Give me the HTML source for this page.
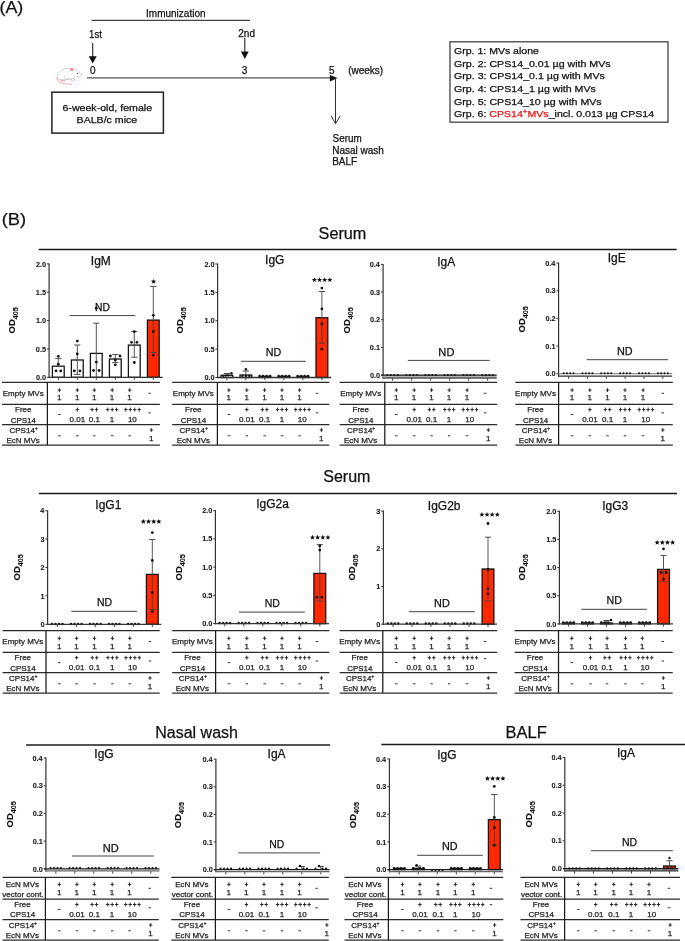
<!DOCTYPE html>
<html><head><meta charset="utf-8"><style>
html,body{margin:0;padding:0;background:#fff;}
body{width:685px;height:941px;overflow:hidden;}
svg{display:block;font-family:"Liberation Sans", sans-serif;will-change:transform;}
</style></head><body>
<svg width="685" height="941" viewBox="0 0 685 941">
<rect width="685" height="941" fill="#fff"/>
<text x="-0.52" y="13.30" font-size="17" fill="#111" stroke="#111" stroke-width="0.25" textLength="23.80" lengthAdjust="spacingAndGlyphs" >(A)</text>
<text x="146.07" y="17.00" font-size="10" fill="#111" stroke="#111" stroke-width="0.25" >Immunization</text>
<line x1="91.50" y1="20.40" x2="250.00" y2="20.40" stroke="#444" stroke-width="1.1" />
<text x="89.08" y="38.10" font-size="10" fill="#111" stroke="#111" stroke-width="0.25" textLength="12.81" lengthAdjust="spacingAndGlyphs" >1st</text>
<text x="238.30" y="37.00" font-size="10" fill="#111" stroke="#111" stroke-width="0.25" >2nd</text>
<line x1="92.70" y1="42.90" x2="92.70" y2="57.00" stroke="#222" stroke-width="1.1" />
<polygon points="88.8,56.2 96.7,56.2 92.7,63.6" fill="#111"/>
<line x1="244.80" y1="38.10" x2="244.80" y2="52.00" stroke="#222" stroke-width="1.1" />
<polygon points="240.9,51.5 248.7,51.5 244.8,58.9" fill="#111"/>
<text x="89.96" y="74.00" font-size="10" fill="#111" stroke="#111" stroke-width="0.25" >0</text>
<text x="241.85" y="74.00" font-size="10" fill="#111" stroke="#111" stroke-width="0.25" >3</text>
<text x="329.03" y="73.80" font-size="10" fill="#111" stroke="#111" stroke-width="0.25" >5</text>
<text x="348.17" y="73.90" font-size="10" fill="#111" stroke="#111" stroke-width="0.25" >(weeks)</text>
<line x1="87.00" y1="77.90" x2="331.00" y2="77.90" stroke="#555" stroke-width="1.3" />
<polygon points="329.9,74.9 337.6,78.1 329.9,81.5" fill="#111"/>
<line x1="335.50" y1="78.00" x2="335.50" y2="123.50" stroke="#333" stroke-width="1.0" />
<polyline points="331.1,115.8 335.5,123.7 340.3,115.8" fill="none" stroke="#333" stroke-width="1"/>
<text x="332.56" y="142.00" font-size="10" fill="#111" stroke="#111" stroke-width="0.25" textLength="29.09" lengthAdjust="spacingAndGlyphs" >Serum</text>
<text x="332.18" y="153.90" font-size="10" fill="#111" stroke="#111" stroke-width="0.25" >Nasal wash</text>
<text x="332.18" y="165.00" font-size="10" fill="#111" stroke="#111" stroke-width="0.25" >BALF</text>
<rect x="51.90" y="92.20" width="111.50" height="40.90" fill="none" stroke="#222" stroke-width="1.5"/>
<text x="62.47" y="110.80" font-size="9.4" fill="#111" stroke="#111" stroke-width="0.25" textLength="89.59" lengthAdjust="spacingAndGlyphs" >6-week-old, female</text>
<text x="76.58" y="122.60" font-size="9.4" fill="#111" stroke="#111" stroke-width="0.25" textLength="60.64" lengthAdjust="spacingAndGlyphs" >BALB/c mice</text>
<rect x="450.00" y="41.80" width="218.00" height="80.40" fill="none" stroke="#333" stroke-width="1.2"/>
<text x="454.07" y="54.10" font-size="9.3" fill="#111" stroke="#111" stroke-width="0.25" textLength="84.79" lengthAdjust="spacingAndGlyphs" >Grp. 1: MVs alone</text>
<text x="454.07" y="66.72" font-size="9.3" fill="#111" stroke="#111" stroke-width="0.25" textLength="156.50" lengthAdjust="spacingAndGlyphs" >Grp. 2: CPS14_0.01 µg with MVs</text>
<text x="454.07" y="79.34" font-size="9.3" fill="#111" stroke="#111" stroke-width="0.25" textLength="150.79" lengthAdjust="spacingAndGlyphs" >Grp. 3: CPS14_0.1 µg with MVs</text>
<text x="454.07" y="91.96" font-size="9.3" fill="#111" stroke="#111" stroke-width="0.25" textLength="141.70" lengthAdjust="spacingAndGlyphs" >Grp. 4: CPS14_1 µg with MVs</text>
<text x="454.07" y="104.58" font-size="9.3" fill="#111" stroke="#111" stroke-width="0.25" textLength="147.61" lengthAdjust="spacingAndGlyphs" >Grp. 5: CPS14_10 µg with MVs</text>
<text x="454.08" y="117.20" font-size="9.3" fill="#111" stroke="#111" stroke-width="0.25" textLength="200.03" lengthAdjust="spacingAndGlyphs">Grp. 6: <tspan fill="#f01010" stroke="#f01010">CPS14<tspan font-size="7" dy="-3.6">+</tspan><tspan dy="3.6">MVs</tspan></tspan>_incl. 0.013 µg CPS14</text>
<g fill="none" stroke-linecap="round" stroke-linejoin="round">
<path d="M57.6,79 C57,74 60,69.5 66,68.6 C69,68.1 71,68.6 72.5,69.2 C74.5,68.5 77,70 78.5,71.6 C80.5,73 81.8,74.5 81.6,75.5 C80,76.6 78,76.7 75.5,77 C74,78.2 72.5,78.8 70,79 C66,79.8 62,80 57.6,79 Z" stroke="#b9c0c6" stroke-width="0.7"/>
<path d="M57,77.5 C56.5,81 60,83.5 66,84 L71.5,84.2" stroke="#f2a0a8" stroke-width="0.9"/>
<path d="M61,80.5 L65,80.8" stroke="#f2a0a8" stroke-width="1.2"/>
<path d="M71.5,79.5 L72.3,81 M74.2,79.4 L75.2,80.2" stroke="#f2a0a8" stroke-width="1"/>
<path d="M64,75.5 L65.5,78.5 L68,78.8 L70,80.3" stroke="#b9c0c6" stroke-width="0.6"/>
</g>
<ellipse cx="71.8" cy="69.5" rx="1.7" ry="1.6" fill="#f08a95"/>
<circle cx="77.6" cy="73.4" r="0.55" fill="#333"/>
<text x="1.75" y="225.10" font-size="17" fill="#111" stroke="#111" stroke-width="0.25" textLength="24.46" lengthAdjust="spacingAndGlyphs" >(B)</text>
<text x="318.57" y="239.40" font-size="16" fill="#111" stroke="#111" stroke-width="0.25" textLength="47.79" lengthAdjust="spacingAndGlyphs" >Serum</text>
<line x1="38.70" y1="249.60" x2="676.70" y2="249.60" stroke="#1a1a1a" stroke-width="1.5" />
<text x="323.28" y="481.70" font-size="16" fill="#111" stroke="#111" stroke-width="0.25" >Serum</text>
<line x1="38.90" y1="493.60" x2="677.00" y2="493.60" stroke="#1a1a1a" stroke-width="1.5" />
<text x="155.28" y="737.60" font-size="16" fill="#111" stroke="#111" stroke-width="0.25" >Nasal wash</text>
<line x1="26.10" y1="744.90" x2="330.10" y2="744.90" stroke="#1a1a1a" stroke-width="1.5" />
<text x="505.64" y="737.80" font-size="16" fill="#111" stroke="#111" stroke-width="0.25" textLength="41.24" lengthAdjust="spacingAndGlyphs" >BALF</text>
<line x1="381.30" y1="744.50" x2="685.50" y2="744.50" stroke="#1a1a1a" stroke-width="1.5" />
<line x1="49.10" y1="263.40" x2="49.10" y2="377.90" stroke="#333" stroke-width="1.2" />
<line x1="46.90" y1="377.30" x2="49.10" y2="377.30" stroke="#333" stroke-width="1.0" />
<text x="35.95" y="379.90" font-size="7.3" font-weight="bold" fill="#1a1a1a" stroke="#1a1a1a" stroke-width="0.1" >0.0</text>
<line x1="46.90" y1="348.95" x2="49.10" y2="348.95" stroke="#333" stroke-width="1.0" />
<text x="35.85" y="351.55" font-size="7.3" font-weight="bold" fill="#1a1a1a" stroke="#1a1a1a" stroke-width="0.1" >0.5</text>
<line x1="46.90" y1="320.60" x2="49.10" y2="320.60" stroke="#333" stroke-width="1.0" />
<text x="35.95" y="323.20" font-size="7.3" font-weight="bold" fill="#1a1a1a" stroke="#1a1a1a" stroke-width="0.1" >1.0</text>
<line x1="46.90" y1="292.25" x2="49.10" y2="292.25" stroke="#333" stroke-width="1.0" />
<text x="35.85" y="294.85" font-size="7.3" font-weight="bold" fill="#1a1a1a" stroke="#1a1a1a" stroke-width="0.1" >1.5</text>
<line x1="46.90" y1="263.90" x2="49.10" y2="263.90" stroke="#333" stroke-width="1.0" />
<text x="35.95" y="266.50" font-size="7.3" font-weight="bold" fill="#1a1a1a" stroke="#1a1a1a" stroke-width="0.1" >2.0</text>
<rect x="52.40" y="366.20" width="11.80" height="11.10" fill="#fff" stroke="#151515" stroke-width="1.3"/>
<line x1="58.30" y1="358.60" x2="58.30" y2="366.20" stroke="#444" stroke-width="0.9" />
<line x1="55.20" y1="358.60" x2="61.40" y2="358.60" stroke="#444" stroke-width="0.95" />
<circle cx="58.30" cy="356.30" r="1.4" fill="#111"/>
<circle cx="58.30" cy="364.20" r="1.4" fill="#111"/>
<circle cx="56.00" cy="370.90" r="1.4" fill="#111"/>
<circle cx="60.80" cy="370.90" r="1.4" fill="#111"/>
<line x1="58.30" y1="377.30" x2="58.30" y2="380.10" stroke="#333" stroke-width="0.9" />
<rect x="71.40" y="360.00" width="11.80" height="17.30" fill="#fff" stroke="#151515" stroke-width="1.3"/>
<line x1="77.30" y1="345.00" x2="77.30" y2="374.40" stroke="#444" stroke-width="0.9" />
<line x1="74.20" y1="345.00" x2="80.40" y2="345.00" stroke="#444" stroke-width="0.95" />
<line x1="74.20" y1="374.40" x2="80.40" y2="374.40" stroke="#444" stroke-width="0.95" />
<circle cx="77.30" cy="341.10" r="1.4" fill="#111"/>
<circle cx="77.30" cy="353.90" r="1.4" fill="#111"/>
<circle cx="74.30" cy="370.90" r="1.4" fill="#111"/>
<circle cx="79.90" cy="370.90" r="1.4" fill="#111"/>
<line x1="77.30" y1="377.30" x2="77.30" y2="380.10" stroke="#333" stroke-width="0.9" />
<rect x="90.40" y="353.40" width="11.80" height="23.90" fill="#fff" stroke="#151515" stroke-width="1.3"/>
<line x1="96.30" y1="323.20" x2="96.30" y2="377.30" stroke="#444" stroke-width="0.9" />
<line x1="93.20" y1="323.20" x2="99.40" y2="323.20" stroke="#444" stroke-width="0.95" />
<circle cx="96.30" cy="308.20" r="1.4" fill="#111"/>
<circle cx="96.30" cy="362.10" r="1.4" fill="#111"/>
<circle cx="93.50" cy="370.50" r="1.4" fill="#111"/>
<circle cx="99.10" cy="370.50" r="1.4" fill="#111"/>
<line x1="96.30" y1="377.30" x2="96.30" y2="380.10" stroke="#333" stroke-width="0.9" />
<rect x="109.40" y="359.00" width="11.80" height="18.30" fill="#fff" stroke="#151515" stroke-width="1.3"/>
<line x1="115.30" y1="354.60" x2="115.30" y2="362.60" stroke="#444" stroke-width="0.9" />
<line x1="112.20" y1="354.60" x2="118.40" y2="354.60" stroke="#444" stroke-width="0.95" />
<line x1="112.20" y1="362.60" x2="118.40" y2="362.60" stroke="#444" stroke-width="0.95" />
<circle cx="110.40" cy="356.00" r="1.4" fill="#111"/>
<circle cx="120.00" cy="356.00" r="1.4" fill="#111"/>
<circle cx="115.30" cy="360.00" r="1.4" fill="#111"/>
<circle cx="115.30" cy="364.80" r="1.4" fill="#111"/>
<line x1="115.30" y1="377.30" x2="115.30" y2="380.10" stroke="#333" stroke-width="0.9" />
<rect x="128.40" y="345.10" width="11.80" height="32.20" fill="#fff" stroke="#151515" stroke-width="1.3"/>
<line x1="134.30" y1="331.60" x2="134.30" y2="357.20" stroke="#444" stroke-width="0.9" />
<line x1="131.20" y1="331.60" x2="137.40" y2="331.60" stroke="#444" stroke-width="0.95" />
<line x1="131.20" y1="357.20" x2="137.40" y2="357.20" stroke="#444" stroke-width="0.95" />
<circle cx="134.30" cy="331.60" r="1.4" fill="#111"/>
<circle cx="131.50" cy="342.30" r="1.4" fill="#111"/>
<circle cx="136.90" cy="342.30" r="1.4" fill="#111"/>
<circle cx="134.30" cy="362.50" r="1.4" fill="#111"/>
<line x1="134.30" y1="377.30" x2="134.30" y2="380.10" stroke="#333" stroke-width="0.9" />
<rect x="147.40" y="320.10" width="11.80" height="57.20" fill="#ff2800" stroke="#151515" stroke-width="1.3"/>
<line x1="153.30" y1="286.40" x2="153.30" y2="352.50" stroke="#444" stroke-width="0.9" />
<line x1="150.20" y1="286.40" x2="156.40" y2="286.40" stroke="#444" stroke-width="0.95" />
<line x1="150.20" y1="352.50" x2="156.40" y2="352.50" stroke="#444" stroke-width="0.95" />
<circle cx="153.30" cy="315.30" r="1.4" fill="#111"/>
<circle cx="153.30" cy="331.50" r="1.4" fill="#111"/>
<circle cx="153.30" cy="355.10" r="1.4" fill="#111"/>
<line x1="153.30" y1="377.30" x2="153.30" y2="380.10" stroke="#333" stroke-width="0.9" />
<line x1="48.50" y1="377.30" x2="162.70" y2="377.30" stroke="#333" stroke-width="1.3" />
<text x="90.84" y="264.60" font-size="12" fill="#111" stroke="#111" stroke-width="0.25" >IgM</text>
<polygon points="153.50,278.90 154.20,280.59 156.02,280.73 154.63,281.92 155.06,283.69 153.50,282.74 151.94,283.69 152.37,281.92 150.98,280.73 152.80,280.59" fill="#111"/>
<text x="95.05" y="310.70" font-size="10.5" fill="#111" stroke="#111" stroke-width="0.25" textLength="14.94" lengthAdjust="spacingAndGlyphs" >ND</text>
<line x1="69.60" y1="315.60" x2="135.30" y2="315.60" stroke="#444" stroke-width="1.0" />
<text transform="translate(15.00,333.40) rotate(-90) scale(0.955,1)" font-size="9.9" font-weight="bold" fill="#111" stroke="#111" stroke-width="0.12">OD<tspan font-size="7.6" dy="3.0">405</tspan></text>
<line x1="2.00" y1="382.40" x2="159.90" y2="382.40" stroke="#2a2a2a" stroke-width="1.25" />
<line x1="2.00" y1="404.30" x2="159.90" y2="404.30" stroke="#2a2a2a" stroke-width="1.25" />
<line x1="2.00" y1="424.70" x2="159.90" y2="424.70" stroke="#2a2a2a" stroke-width="1.25" />
<line x1="2.00" y1="445.00" x2="159.90" y2="445.00" stroke="#2a2a2a" stroke-width="1.25" />
<line x1="47.40" y1="382.40" x2="47.40" y2="445.00" stroke="#1a1a1a" stroke-width="1.25" />
<text x="2.76" y="396.00" font-size="8" fill="#222" stroke="#222" stroke-width="0.25" >Empty MVs</text>
<path d="M57.70,390.10H61.10M59.40,388.15V392.05" stroke="#222" stroke-width="0.95" fill="none"/>
<text x="57.07" y="400.40" font-size="8" fill="#222" stroke="#222" stroke-width="0.25" >1</text>
<path d="M75.60,390.10H79.00M77.30,388.15V392.05" stroke="#222" stroke-width="0.95" fill="none"/>
<text x="74.97" y="400.40" font-size="8" fill="#222" stroke="#222" stroke-width="0.25" >1</text>
<path d="M92.60,390.10H96.00M94.30,388.15V392.05" stroke="#222" stroke-width="0.95" fill="none"/>
<text x="91.97" y="400.40" font-size="8" fill="#222" stroke="#222" stroke-width="0.25" >1</text>
<path d="M110.50,390.10H113.90M112.20,388.15V392.05" stroke="#222" stroke-width="0.95" fill="none"/>
<text x="109.87" y="400.40" font-size="8" fill="#222" stroke="#222" stroke-width="0.25" >1</text>
<path d="M128.00,390.10H131.40M129.70,388.15V392.05" stroke="#222" stroke-width="0.95" fill="none"/>
<text x="127.37" y="400.40" font-size="8" fill="#222" stroke="#222" stroke-width="0.25" >1</text>
<line x1="148.35" y1="393.30" x2="150.85" y2="393.30" stroke="#333" stroke-width="1.0" />
<text x="15.02" y="412.30" font-size="8" fill="#222" stroke="#222" stroke-width="0.25" >Free</text>
<text x="10.64" y="422.50" font-size="8" fill="#222" stroke="#222" stroke-width="0.25" >CPS14</text>
<line x1="58.15" y1="414.50" x2="60.65" y2="414.50" stroke="#333" stroke-width="1.0" />
<path d="M75.60,409.60H79.00M77.30,407.65V411.55" stroke="#222" stroke-width="0.95" fill="none"/>
<text x="69.55" y="421.60" font-size="8" fill="#222" stroke="#222" stroke-width="0.25" >0.01</text>
<path d="M90.38,409.60H93.78M92.08,407.65V411.55" stroke="#222" stroke-width="0.95" fill="none"/>
<path d="M94.82,409.60H98.22M96.52,407.65V411.55" stroke="#222" stroke-width="0.95" fill="none"/>
<text x="88.77" y="421.60" font-size="8" fill="#222" stroke="#222" stroke-width="0.25" >0.1</text>
<path d="M106.05,409.60H109.45M107.75,407.65V411.55" stroke="#222" stroke-width="0.95" fill="none"/>
<path d="M110.50,409.60H113.90M112.20,407.65V411.55" stroke="#222" stroke-width="0.95" fill="none"/>
<path d="M114.95,409.60H118.35M116.65,407.65V411.55" stroke="#222" stroke-width="0.95" fill="none"/>
<text x="109.87" y="421.60" font-size="8" fill="#222" stroke="#222" stroke-width="0.25" >1</text>
<path d="M124.12,409.60H127.53M125.83,407.65V411.55" stroke="#222" stroke-width="0.95" fill="none"/>
<path d="M128.58,409.60H131.97M130.28,407.65V411.55" stroke="#222" stroke-width="0.95" fill="none"/>
<path d="M133.03,409.60H136.42M134.72,407.65V411.55" stroke="#222" stroke-width="0.95" fill="none"/>
<path d="M137.48,409.60H140.88M139.18,407.65V411.55" stroke="#222" stroke-width="0.95" fill="none"/>
<text x="127.91" y="421.60" font-size="8" fill="#222" stroke="#222" stroke-width="0.25" >10</text>
<line x1="148.35" y1="412.90" x2="150.85" y2="412.90" stroke="#333" stroke-width="1.0" />
<text x="9.49" y="432.70" font-size="8" fill="#222" stroke="#222" stroke-width="0.25">CPS14<tspan font-size="5.2" dy="-2.8">+</tspan></text>
<text x="6.54" y="442.90" font-size="8" fill="#222" stroke="#222" stroke-width="0.25" >EcN MVs</text>
<line x1="58.15" y1="435.80" x2="60.65" y2="435.80" stroke="#333" stroke-width="1.0" />
<line x1="76.05" y1="435.80" x2="78.55" y2="435.80" stroke="#333" stroke-width="1.0" />
<line x1="93.05" y1="435.80" x2="95.55" y2="435.80" stroke="#333" stroke-width="1.0" />
<line x1="110.95" y1="435.80" x2="113.45" y2="435.80" stroke="#333" stroke-width="1.0" />
<line x1="128.45" y1="435.80" x2="130.95" y2="435.80" stroke="#333" stroke-width="1.0" />
<path d="M149.60,430.00H153.00M151.30,428.05V431.95" stroke="#222" stroke-width="0.95" fill="none"/>
<text x="148.97" y="440.90" font-size="8" fill="#222" stroke="#222" stroke-width="0.25" >1</text>
<line x1="217.60" y1="263.50" x2="217.60" y2="378.10" stroke="#333" stroke-width="1.2" />
<line x1="215.40" y1="377.50" x2="217.60" y2="377.50" stroke="#333" stroke-width="1.0" />
<text x="204.44" y="380.10" font-size="7.3" font-weight="bold" fill="#1a1a1a" stroke="#1a1a1a" stroke-width="0.1" >0.0</text>
<line x1="215.40" y1="349.12" x2="217.60" y2="349.12" stroke="#333" stroke-width="1.0" />
<text x="204.35" y="351.73" font-size="7.3" font-weight="bold" fill="#1a1a1a" stroke="#1a1a1a" stroke-width="0.1" >0.5</text>
<line x1="215.40" y1="320.75" x2="217.60" y2="320.75" stroke="#333" stroke-width="1.0" />
<text x="204.44" y="323.35" font-size="7.3" font-weight="bold" fill="#1a1a1a" stroke="#1a1a1a" stroke-width="0.1" >1.0</text>
<line x1="215.40" y1="292.38" x2="217.60" y2="292.38" stroke="#333" stroke-width="1.0" />
<text x="204.35" y="294.98" font-size="7.3" font-weight="bold" fill="#1a1a1a" stroke="#1a1a1a" stroke-width="0.1" >1.5</text>
<line x1="215.40" y1="264.00" x2="217.60" y2="264.00" stroke="#333" stroke-width="1.0" />
<text x="204.44" y="266.60" font-size="7.3" font-weight="bold" fill="#1a1a1a" stroke="#1a1a1a" stroke-width="0.1" >2.0</text>
<rect x="221.00" y="375.30" width="11.80" height="2.20" fill="#fff" stroke="#151515" stroke-width="1.3"/>
<line x1="226.90" y1="373.50" x2="226.90" y2="375.30" stroke="#444" stroke-width="0.9" />
<line x1="223.80" y1="373.50" x2="230.00" y2="373.50" stroke="#444" stroke-width="0.95" />
<circle cx="223.40" cy="376.00" r="1.15" fill="#111"/>
<circle cx="225.90" cy="375.60" r="1.15" fill="#111"/>
<circle cx="228.40" cy="375.30" r="1.15" fill="#111"/>
<circle cx="231.50" cy="373.30" r="1.2" fill="#111"/>
<line x1="226.90" y1="377.50" x2="226.90" y2="380.30" stroke="#333" stroke-width="0.9" />
<rect x="240.00" y="375.00" width="11.80" height="2.50" fill="#fff" stroke="#151515" stroke-width="1.3"/>
<line x1="245.90" y1="371.00" x2="245.90" y2="375.00" stroke="#444" stroke-width="0.9" />
<line x1="242.80" y1="371.00" x2="249.00" y2="371.00" stroke="#444" stroke-width="0.95" />
<circle cx="245.90" cy="369.20" r="1.25" fill="#111"/>
<circle cx="242.40" cy="376.00" r="1.15" fill="#111"/>
<circle cx="245.90" cy="376.00" r="1.15" fill="#111"/>
<circle cx="249.40" cy="376.00" r="1.15" fill="#111"/>
<line x1="245.90" y1="377.50" x2="245.90" y2="380.30" stroke="#333" stroke-width="0.9" />
<rect x="259.00" y="376.30" width="11.80" height="1.20" fill="#fff" stroke="#151515" stroke-width="1.3"/>
<circle cx="259.65" cy="375.90" r="1.15" fill="#111"/>
<circle cx="263.15" cy="375.90" r="1.15" fill="#111"/>
<circle cx="266.65" cy="375.90" r="1.15" fill="#111"/>
<circle cx="270.15" cy="375.90" r="1.15" fill="#111"/>
<line x1="264.90" y1="377.50" x2="264.90" y2="380.30" stroke="#333" stroke-width="0.9" />
<rect x="278.00" y="376.30" width="11.80" height="1.20" fill="#fff" stroke="#151515" stroke-width="1.3"/>
<circle cx="278.65" cy="375.90" r="1.15" fill="#111"/>
<circle cx="282.15" cy="375.90" r="1.15" fill="#111"/>
<circle cx="285.65" cy="375.90" r="1.15" fill="#111"/>
<circle cx="289.15" cy="375.90" r="1.15" fill="#111"/>
<line x1="283.90" y1="377.50" x2="283.90" y2="380.30" stroke="#333" stroke-width="0.9" />
<rect x="297.00" y="376.30" width="11.80" height="1.20" fill="#fff" stroke="#151515" stroke-width="1.3"/>
<circle cx="297.65" cy="375.90" r="1.15" fill="#111"/>
<circle cx="301.15" cy="375.90" r="1.15" fill="#111"/>
<circle cx="304.65" cy="375.90" r="1.15" fill="#111"/>
<circle cx="308.15" cy="375.90" r="1.15" fill="#111"/>
<line x1="302.90" y1="377.50" x2="302.90" y2="380.30" stroke="#333" stroke-width="0.9" />
<rect x="316.00" y="317.70" width="11.80" height="59.80" fill="#ff2800" stroke="#151515" stroke-width="1.3"/>
<line x1="321.90" y1="291.50" x2="321.90" y2="343.20" stroke="#444" stroke-width="0.9" />
<line x1="318.80" y1="291.50" x2="325.00" y2="291.50" stroke="#444" stroke-width="0.95" />
<line x1="318.80" y1="343.20" x2="325.00" y2="343.20" stroke="#444" stroke-width="0.95" />
<circle cx="321.90" cy="288.10" r="1.4" fill="#111"/>
<circle cx="321.90" cy="308.90" r="1.4" fill="#111"/>
<circle cx="321.90" cy="323.80" r="1.4" fill="#111"/>
<circle cx="321.90" cy="349.20" r="1.4" fill="#111"/>
<line x1="321.90" y1="377.50" x2="321.90" y2="380.30" stroke="#333" stroke-width="0.9" />
<line x1="217.00" y1="377.50" x2="331.20" y2="377.50" stroke="#333" stroke-width="1.3" />
<text x="265.12" y="264.00" font-size="12" fill="#111" stroke="#111" stroke-width="0.25" >IgG</text>
<polygon points="314.38,277.20 315.08,278.89 316.90,279.03 315.51,280.22 315.93,281.99 314.38,281.04 312.82,281.99 313.24,280.22 311.85,279.03 313.67,278.89" fill="#111"/>
<polygon points="319.52,277.20 320.23,278.89 322.05,279.03 320.66,280.22 321.08,281.99 319.52,281.04 317.97,281.99 318.39,280.22 317.00,279.03 318.82,278.89" fill="#111"/>
<polygon points="324.68,277.20 325.38,278.89 327.20,279.03 325.81,280.22 326.23,281.99 324.68,281.04 323.12,281.99 323.54,280.22 322.15,279.03 323.97,278.89" fill="#111"/>
<polygon points="329.82,277.20 330.53,278.89 332.35,279.03 330.96,280.22 331.38,281.99 329.82,281.04 328.27,281.99 328.69,280.22 327.30,279.03 329.12,278.89" fill="#111"/>
<text x="265.82" y="356.20" font-size="10.5" fill="#111" stroke="#111" stroke-width="0.25" textLength="15.49" lengthAdjust="spacingAndGlyphs" >ND</text>
<line x1="240.80" y1="361.30" x2="305.70" y2="361.30" stroke="#444" stroke-width="1.0" />
<text transform="translate(183.00,333.40) rotate(-90) scale(0.955,1)" font-size="9.9" font-weight="bold" fill="#111" stroke="#111" stroke-width="0.12">OD<tspan font-size="7.6" dy="3.0">405</tspan></text>
<line x1="172.20" y1="382.40" x2="329.30" y2="382.40" stroke="#2a2a2a" stroke-width="1.25" />
<line x1="172.20" y1="404.30" x2="329.30" y2="404.30" stroke="#2a2a2a" stroke-width="1.25" />
<line x1="172.20" y1="424.70" x2="329.30" y2="424.70" stroke="#2a2a2a" stroke-width="1.25" />
<line x1="172.20" y1="445.00" x2="329.30" y2="445.00" stroke="#2a2a2a" stroke-width="1.25" />
<line x1="217.40" y1="382.40" x2="217.40" y2="445.00" stroke="#1a1a1a" stroke-width="1.25" />
<text x="172.86" y="396.00" font-size="8" fill="#222" stroke="#222" stroke-width="0.25" >Empty MVs</text>
<path d="M227.20,390.10H230.60M228.90,388.15V392.05" stroke="#222" stroke-width="0.95" fill="none"/>
<text x="226.57" y="400.40" font-size="8" fill="#222" stroke="#222" stroke-width="0.25" >1</text>
<path d="M245.10,390.10H248.50M246.80,388.15V392.05" stroke="#222" stroke-width="0.95" fill="none"/>
<text x="244.47" y="400.40" font-size="8" fill="#222" stroke="#222" stroke-width="0.25" >1</text>
<path d="M262.90,390.10H266.30M264.60,388.15V392.05" stroke="#222" stroke-width="0.95" fill="none"/>
<text x="262.27" y="400.40" font-size="8" fill="#222" stroke="#222" stroke-width="0.25" >1</text>
<path d="M280.30,390.10H283.70M282.00,388.15V392.05" stroke="#222" stroke-width="0.95" fill="none"/>
<text x="279.67" y="400.40" font-size="8" fill="#222" stroke="#222" stroke-width="0.25" >1</text>
<path d="M297.90,390.10H301.30M299.60,388.15V392.05" stroke="#222" stroke-width="0.95" fill="none"/>
<text x="297.27" y="400.40" font-size="8" fill="#222" stroke="#222" stroke-width="0.25" >1</text>
<line x1="315.75" y1="393.30" x2="318.25" y2="393.30" stroke="#333" stroke-width="1.0" />
<text x="185.12" y="412.30" font-size="8" fill="#222" stroke="#222" stroke-width="0.25" >Free</text>
<text x="180.74" y="422.50" font-size="8" fill="#222" stroke="#222" stroke-width="0.25" >CPS14</text>
<line x1="227.65" y1="414.50" x2="230.15" y2="414.50" stroke="#333" stroke-width="1.0" />
<path d="M245.10,409.60H248.50M246.80,407.65V411.55" stroke="#222" stroke-width="0.95" fill="none"/>
<text x="239.05" y="421.60" font-size="8" fill="#222" stroke="#222" stroke-width="0.25" >0.01</text>
<path d="M260.68,409.60H264.07M262.38,407.65V411.55" stroke="#222" stroke-width="0.95" fill="none"/>
<path d="M265.13,409.60H268.53M266.83,407.65V411.55" stroke="#222" stroke-width="0.95" fill="none"/>
<text x="259.07" y="421.60" font-size="8" fill="#222" stroke="#222" stroke-width="0.25" >0.1</text>
<path d="M275.85,409.60H279.25M277.55,407.65V411.55" stroke="#222" stroke-width="0.95" fill="none"/>
<path d="M280.30,409.60H283.70M282.00,407.65V411.55" stroke="#222" stroke-width="0.95" fill="none"/>
<path d="M284.75,409.60H288.15M286.45,407.65V411.55" stroke="#222" stroke-width="0.95" fill="none"/>
<text x="279.67" y="421.60" font-size="8" fill="#222" stroke="#222" stroke-width="0.25" >1</text>
<path d="M294.03,409.60H297.43M295.73,407.65V411.55" stroke="#222" stroke-width="0.95" fill="none"/>
<path d="M298.48,409.60H301.88M300.18,407.65V411.55" stroke="#222" stroke-width="0.95" fill="none"/>
<path d="M302.93,409.60H306.33M304.63,407.65V411.55" stroke="#222" stroke-width="0.95" fill="none"/>
<path d="M307.38,409.60H310.78M309.08,407.65V411.55" stroke="#222" stroke-width="0.95" fill="none"/>
<text x="297.81" y="421.60" font-size="8" fill="#222" stroke="#222" stroke-width="0.25" >10</text>
<line x1="315.75" y1="412.90" x2="318.25" y2="412.90" stroke="#333" stroke-width="1.0" />
<text x="179.59" y="432.70" font-size="8" fill="#222" stroke="#222" stroke-width="0.25">CPS14<tspan font-size="5.2" dy="-2.8">+</tspan></text>
<text x="176.64" y="442.90" font-size="8" fill="#222" stroke="#222" stroke-width="0.25" >EcN MVs</text>
<line x1="227.65" y1="435.80" x2="230.15" y2="435.80" stroke="#333" stroke-width="1.0" />
<line x1="245.55" y1="435.80" x2="248.05" y2="435.80" stroke="#333" stroke-width="1.0" />
<line x1="263.35" y1="435.80" x2="265.85" y2="435.80" stroke="#333" stroke-width="1.0" />
<line x1="280.75" y1="435.80" x2="283.25" y2="435.80" stroke="#333" stroke-width="1.0" />
<line x1="298.35" y1="435.80" x2="300.85" y2="435.80" stroke="#333" stroke-width="1.0" />
<path d="M319.70,430.00H323.10M321.40,428.05V431.95" stroke="#222" stroke-width="0.95" fill="none"/>
<text x="319.07" y="440.90" font-size="8" fill="#222" stroke="#222" stroke-width="0.25" >1</text>
<line x1="383.10" y1="263.90" x2="383.10" y2="378.60" stroke="#333" stroke-width="1.2" />
<line x1="380.90" y1="375.10" x2="383.10" y2="375.10" stroke="#333" stroke-width="1.0" />
<text x="369.95" y="377.70" font-size="7.3" font-weight="bold" fill="#1a1a1a" stroke="#1a1a1a" stroke-width="0.1" >0.0</text>
<line x1="380.90" y1="347.43" x2="383.10" y2="347.43" stroke="#333" stroke-width="1.0" />
<text x="369.85" y="350.03" font-size="7.3" font-weight="bold" fill="#1a1a1a" stroke="#1a1a1a" stroke-width="0.1" >0.1</text>
<line x1="380.90" y1="319.75" x2="383.10" y2="319.75" stroke="#333" stroke-width="1.0" />
<text x="369.93" y="322.35" font-size="7.3" font-weight="bold" fill="#1a1a1a" stroke="#1a1a1a" stroke-width="0.1" >0.2</text>
<line x1="380.90" y1="292.07" x2="383.10" y2="292.07" stroke="#333" stroke-width="1.0" />
<text x="369.91" y="294.68" font-size="7.3" font-weight="bold" fill="#1a1a1a" stroke="#1a1a1a" stroke-width="0.1" >0.3</text>
<line x1="380.90" y1="264.40" x2="383.10" y2="264.40" stroke="#333" stroke-width="1.0" />
<text x="369.69" y="267.00" font-size="7.3" font-weight="bold" fill="#1a1a1a" stroke="#1a1a1a" stroke-width="0.1" >0.4</text>
<rect x="383.10" y="375.10" width="113.60" height="2.90" fill="#b4b4b4"/>
<line x1="381.30" y1="375.10" x2="496.70" y2="375.10" stroke="#1a1a1a" stroke-width="1.3" />
<circle cx="387.35" cy="374.90" r="1.0" fill="#111"/>
<circle cx="390.85" cy="374.90" r="1.0" fill="#111"/>
<circle cx="394.35" cy="374.90" r="1.0" fill="#111"/>
<circle cx="397.85" cy="374.90" r="1.0" fill="#111"/>
<line x1="392.60" y1="378.00" x2="392.60" y2="380.80" stroke="#333" stroke-width="0.9" />
<circle cx="406.35" cy="374.90" r="1.0" fill="#111"/>
<circle cx="409.85" cy="374.90" r="1.0" fill="#111"/>
<circle cx="413.35" cy="374.90" r="1.0" fill="#111"/>
<circle cx="416.85" cy="374.90" r="1.0" fill="#111"/>
<line x1="411.60" y1="378.00" x2="411.60" y2="380.80" stroke="#333" stroke-width="0.9" />
<circle cx="425.35" cy="374.90" r="1.0" fill="#111"/>
<circle cx="428.85" cy="374.90" r="1.0" fill="#111"/>
<circle cx="432.35" cy="374.90" r="1.0" fill="#111"/>
<circle cx="435.85" cy="374.90" r="1.0" fill="#111"/>
<line x1="430.60" y1="378.00" x2="430.60" y2="380.80" stroke="#333" stroke-width="0.9" />
<circle cx="444.35" cy="374.90" r="1.0" fill="#111"/>
<circle cx="447.85" cy="374.90" r="1.0" fill="#111"/>
<circle cx="451.35" cy="374.90" r="1.0" fill="#111"/>
<circle cx="454.85" cy="374.90" r="1.0" fill="#111"/>
<line x1="449.60" y1="378.00" x2="449.60" y2="380.80" stroke="#333" stroke-width="0.9" />
<circle cx="463.35" cy="374.90" r="1.0" fill="#111"/>
<circle cx="466.85" cy="374.90" r="1.0" fill="#111"/>
<circle cx="470.35" cy="374.90" r="1.0" fill="#111"/>
<circle cx="473.85" cy="374.90" r="1.0" fill="#111"/>
<line x1="468.60" y1="378.00" x2="468.60" y2="380.80" stroke="#333" stroke-width="0.9" />
<circle cx="482.35" cy="374.90" r="1.0" fill="#111"/>
<circle cx="485.85" cy="374.90" r="1.0" fill="#111"/>
<circle cx="489.35" cy="374.90" r="1.0" fill="#111"/>
<circle cx="492.85" cy="374.90" r="1.0" fill="#111"/>
<line x1="487.60" y1="378.00" x2="487.60" y2="380.80" stroke="#333" stroke-width="0.9" />
<line x1="382.50" y1="378.00" x2="496.70" y2="378.00" stroke="#555" stroke-width="1.3" />
<text x="437.14" y="265.60" font-size="12" fill="#111" stroke="#111" stroke-width="0.25" >IgA</text>
<text x="438.38" y="355.60" font-size="10.5" fill="#111" stroke="#111" stroke-width="0.25" textLength="16.04" lengthAdjust="spacingAndGlyphs" >ND</text>
<line x1="407.80" y1="360.40" x2="489.80" y2="360.40" stroke="#444" stroke-width="1.0" />
<text transform="translate(349.50,333.40) rotate(-90) scale(0.955,1)" font-size="9.9" font-weight="bold" fill="#111" stroke="#111" stroke-width="0.12">OD<tspan font-size="7.6" dy="3.0">405</tspan></text>
<line x1="339.60" y1="382.40" x2="497.20" y2="382.40" stroke="#2a2a2a" stroke-width="1.25" />
<line x1="339.60" y1="404.30" x2="497.20" y2="404.30" stroke="#2a2a2a" stroke-width="1.25" />
<line x1="339.60" y1="424.70" x2="497.20" y2="424.70" stroke="#2a2a2a" stroke-width="1.25" />
<line x1="339.60" y1="445.00" x2="497.20" y2="445.00" stroke="#2a2a2a" stroke-width="1.25" />
<line x1="384.80" y1="382.40" x2="384.80" y2="445.00" stroke="#1a1a1a" stroke-width="1.25" />
<text x="340.26" y="396.00" font-size="8" fill="#222" stroke="#222" stroke-width="0.25" >Empty MVs</text>
<path d="M394.60,390.10H398.00M396.30,388.15V392.05" stroke="#222" stroke-width="0.95" fill="none"/>
<text x="393.97" y="400.40" font-size="8" fill="#222" stroke="#222" stroke-width="0.25" >1</text>
<path d="M412.50,390.10H415.90M414.20,388.15V392.05" stroke="#222" stroke-width="0.95" fill="none"/>
<text x="411.87" y="400.40" font-size="8" fill="#222" stroke="#222" stroke-width="0.25" >1</text>
<path d="M429.90,390.10H433.30M431.60,388.15V392.05" stroke="#222" stroke-width="0.95" fill="none"/>
<text x="429.27" y="400.40" font-size="8" fill="#222" stroke="#222" stroke-width="0.25" >1</text>
<path d="M447.50,390.10H450.90M449.20,388.15V392.05" stroke="#222" stroke-width="0.95" fill="none"/>
<text x="446.87" y="400.40" font-size="8" fill="#222" stroke="#222" stroke-width="0.25" >1</text>
<path d="M465.40,390.10H468.80M467.10,388.15V392.05" stroke="#222" stroke-width="0.95" fill="none"/>
<text x="464.77" y="400.40" font-size="8" fill="#222" stroke="#222" stroke-width="0.25" >1</text>
<line x1="483.95" y1="393.30" x2="486.45" y2="393.30" stroke="#333" stroke-width="1.0" />
<text x="352.52" y="412.30" font-size="8" fill="#222" stroke="#222" stroke-width="0.25" >Free</text>
<text x="348.14" y="422.50" font-size="8" fill="#222" stroke="#222" stroke-width="0.25" >CPS14</text>
<line x1="395.05" y1="414.50" x2="397.55" y2="414.50" stroke="#333" stroke-width="1.0" />
<path d="M412.50,409.60H415.90M414.20,407.65V411.55" stroke="#222" stroke-width="0.95" fill="none"/>
<text x="406.45" y="421.60" font-size="8" fill="#222" stroke="#222" stroke-width="0.25" >0.01</text>
<path d="M427.68,409.60H431.07M429.38,407.65V411.55" stroke="#222" stroke-width="0.95" fill="none"/>
<path d="M432.13,409.60H435.53M433.83,407.65V411.55" stroke="#222" stroke-width="0.95" fill="none"/>
<text x="426.07" y="421.60" font-size="8" fill="#222" stroke="#222" stroke-width="0.25" >0.1</text>
<path d="M443.05,409.60H446.45M444.75,407.65V411.55" stroke="#222" stroke-width="0.95" fill="none"/>
<path d="M447.50,409.60H450.90M449.20,407.65V411.55" stroke="#222" stroke-width="0.95" fill="none"/>
<path d="M451.95,409.60H455.35M453.65,407.65V411.55" stroke="#222" stroke-width="0.95" fill="none"/>
<text x="446.87" y="421.60" font-size="8" fill="#222" stroke="#222" stroke-width="0.25" >1</text>
<path d="M461.53,409.60H464.93M463.23,407.65V411.55" stroke="#222" stroke-width="0.95" fill="none"/>
<path d="M465.98,409.60H469.38M467.68,407.65V411.55" stroke="#222" stroke-width="0.95" fill="none"/>
<path d="M470.43,409.60H473.83M472.13,407.65V411.55" stroke="#222" stroke-width="0.95" fill="none"/>
<path d="M474.88,409.60H478.28M476.58,407.65V411.55" stroke="#222" stroke-width="0.95" fill="none"/>
<text x="465.31" y="421.60" font-size="8" fill="#222" stroke="#222" stroke-width="0.25" >10</text>
<line x1="483.95" y1="412.90" x2="486.45" y2="412.90" stroke="#333" stroke-width="1.0" />
<text x="346.99" y="432.70" font-size="8" fill="#222" stroke="#222" stroke-width="0.25">CPS14<tspan font-size="5.2" dy="-2.8">+</tspan></text>
<text x="344.04" y="442.90" font-size="8" fill="#222" stroke="#222" stroke-width="0.25" >EcN MVs</text>
<line x1="395.05" y1="435.80" x2="397.55" y2="435.80" stroke="#333" stroke-width="1.0" />
<line x1="412.95" y1="435.80" x2="415.45" y2="435.80" stroke="#333" stroke-width="1.0" />
<line x1="430.35" y1="435.80" x2="432.85" y2="435.80" stroke="#333" stroke-width="1.0" />
<line x1="447.95" y1="435.80" x2="450.45" y2="435.80" stroke="#333" stroke-width="1.0" />
<line x1="465.85" y1="435.80" x2="468.35" y2="435.80" stroke="#333" stroke-width="1.0" />
<path d="M486.60,430.00H490.00M488.30,428.05V431.95" stroke="#222" stroke-width="0.95" fill="none"/>
<text x="485.97" y="440.90" font-size="8" fill="#222" stroke="#222" stroke-width="0.25" >1</text>
<line x1="558.60" y1="262.60" x2="558.60" y2="376.80" stroke="#333" stroke-width="1.2" />
<line x1="556.40" y1="373.70" x2="558.60" y2="373.70" stroke="#333" stroke-width="1.0" />
<text x="545.45" y="376.30" font-size="7.3" font-weight="bold" fill="#1a1a1a" stroke="#1a1a1a" stroke-width="0.1" >0.0</text>
<line x1="556.40" y1="346.05" x2="558.60" y2="346.05" stroke="#333" stroke-width="1.0" />
<text x="545.35" y="348.65" font-size="7.3" font-weight="bold" fill="#1a1a1a" stroke="#1a1a1a" stroke-width="0.1" >0.1</text>
<line x1="556.40" y1="318.40" x2="558.60" y2="318.40" stroke="#333" stroke-width="1.0" />
<text x="545.43" y="321.00" font-size="7.3" font-weight="bold" fill="#1a1a1a" stroke="#1a1a1a" stroke-width="0.1" >0.2</text>
<line x1="556.40" y1="290.75" x2="558.60" y2="290.75" stroke="#333" stroke-width="1.0" />
<text x="545.41" y="293.35" font-size="7.3" font-weight="bold" fill="#1a1a1a" stroke="#1a1a1a" stroke-width="0.1" >0.3</text>
<line x1="556.40" y1="263.10" x2="558.60" y2="263.10" stroke="#333" stroke-width="1.0" />
<text x="545.19" y="265.70" font-size="7.3" font-weight="bold" fill="#1a1a1a" stroke="#1a1a1a" stroke-width="0.1" >0.4</text>
<line x1="556.40" y1="373.70" x2="672.20" y2="373.70" stroke="#777" stroke-width="1.0" />
<circle cx="563.65" cy="373.30" r="1.05" fill="#111"/>
<circle cx="566.95" cy="373.30" r="1.05" fill="#111"/>
<circle cx="570.25" cy="373.30" r="1.05" fill="#111"/>
<circle cx="573.55" cy="373.30" r="1.05" fill="#111"/>
<line x1="568.60" y1="376.20" x2="568.60" y2="379.00" stroke="#333" stroke-width="0.9" />
<circle cx="582.50" cy="373.30" r="1.05" fill="#111"/>
<circle cx="585.80" cy="373.30" r="1.05" fill="#111"/>
<circle cx="589.10" cy="373.30" r="1.05" fill="#111"/>
<circle cx="592.40" cy="373.30" r="1.05" fill="#111"/>
<line x1="587.45" y1="376.20" x2="587.45" y2="379.00" stroke="#333" stroke-width="0.9" />
<circle cx="601.35" cy="373.30" r="1.05" fill="#111"/>
<circle cx="604.65" cy="373.30" r="1.05" fill="#111"/>
<circle cx="607.95" cy="373.30" r="1.05" fill="#111"/>
<circle cx="611.25" cy="373.30" r="1.05" fill="#111"/>
<line x1="606.30" y1="376.20" x2="606.30" y2="379.00" stroke="#333" stroke-width="0.9" />
<circle cx="620.20" cy="373.30" r="1.05" fill="#111"/>
<circle cx="623.50" cy="373.30" r="1.05" fill="#111"/>
<circle cx="626.80" cy="373.30" r="1.05" fill="#111"/>
<circle cx="630.10" cy="373.30" r="1.05" fill="#111"/>
<line x1="625.15" y1="376.20" x2="625.15" y2="379.00" stroke="#333" stroke-width="0.9" />
<circle cx="639.05" cy="373.30" r="1.05" fill="#111"/>
<circle cx="642.35" cy="373.30" r="1.05" fill="#111"/>
<circle cx="645.65" cy="373.30" r="1.05" fill="#111"/>
<circle cx="648.95" cy="373.30" r="1.05" fill="#111"/>
<line x1="644.00" y1="376.20" x2="644.00" y2="379.00" stroke="#333" stroke-width="0.9" />
<circle cx="657.90" cy="373.30" r="1.05" fill="#111"/>
<circle cx="661.20" cy="373.30" r="1.05" fill="#111"/>
<circle cx="664.50" cy="373.30" r="1.05" fill="#111"/>
<circle cx="667.80" cy="373.30" r="1.05" fill="#111"/>
<line x1="662.85" y1="376.20" x2="662.85" y2="379.00" stroke="#333" stroke-width="0.9" />
<line x1="558.00" y1="376.20" x2="672.20" y2="376.20" stroke="#333" stroke-width="1.3" />
<text x="607.68" y="262.20" font-size="12" fill="#111" stroke="#111" stroke-width="0.25" >IgE</text>
<text x="617.01" y="354.80" font-size="10.5" fill="#111" stroke="#111" stroke-width="0.25" textLength="15.60" lengthAdjust="spacingAndGlyphs" >ND</text>
<line x1="586.60" y1="359.70" x2="668.00" y2="359.70" stroke="#444" stroke-width="1.0" />
<text transform="translate(524.70,332.40) rotate(-90) scale(0.955,1)" font-size="9.9" font-weight="bold" fill="#111" stroke="#111" stroke-width="0.12">OD<tspan font-size="7.6" dy="3.0">405</tspan></text>
<line x1="515.40" y1="382.40" x2="672.80" y2="382.40" stroke="#2a2a2a" stroke-width="1.25" />
<line x1="515.40" y1="404.30" x2="672.80" y2="404.30" stroke="#2a2a2a" stroke-width="1.25" />
<line x1="515.40" y1="424.70" x2="672.80" y2="424.70" stroke="#2a2a2a" stroke-width="1.25" />
<line x1="515.40" y1="445.00" x2="672.80" y2="445.00" stroke="#2a2a2a" stroke-width="1.25" />
<line x1="558.60" y1="382.40" x2="558.60" y2="445.00" stroke="#1a1a1a" stroke-width="1.25" />
<text x="515.06" y="396.00" font-size="8" fill="#222" stroke="#222" stroke-width="0.25" >Empty MVs</text>
<path d="M570.40,390.10H573.80M572.10,388.15V392.05" stroke="#222" stroke-width="0.95" fill="none"/>
<text x="569.77" y="400.40" font-size="8" fill="#222" stroke="#222" stroke-width="0.25" >1</text>
<path d="M588.20,390.10H591.60M589.90,388.15V392.05" stroke="#222" stroke-width="0.95" fill="none"/>
<text x="587.57" y="400.40" font-size="8" fill="#222" stroke="#222" stroke-width="0.25" >1</text>
<path d="M605.80,390.10H609.20M607.50,388.15V392.05" stroke="#222" stroke-width="0.95" fill="none"/>
<text x="605.17" y="400.40" font-size="8" fill="#222" stroke="#222" stroke-width="0.25" >1</text>
<path d="M623.30,390.10H626.70M625.00,388.15V392.05" stroke="#222" stroke-width="0.95" fill="none"/>
<text x="622.67" y="400.40" font-size="8" fill="#222" stroke="#222" stroke-width="0.25" >1</text>
<path d="M641.40,390.10H644.80M643.10,388.15V392.05" stroke="#222" stroke-width="0.95" fill="none"/>
<text x="640.77" y="400.40" font-size="8" fill="#222" stroke="#222" stroke-width="0.25" >1</text>
<line x1="661.55" y1="393.30" x2="664.05" y2="393.30" stroke="#333" stroke-width="1.0" />
<text x="527.32" y="412.30" font-size="8" fill="#222" stroke="#222" stroke-width="0.25" >Free</text>
<text x="522.94" y="422.50" font-size="8" fill="#222" stroke="#222" stroke-width="0.25" >CPS14</text>
<line x1="570.85" y1="414.50" x2="573.35" y2="414.50" stroke="#333" stroke-width="1.0" />
<path d="M588.20,409.60H591.60M589.90,407.65V411.55" stroke="#222" stroke-width="0.95" fill="none"/>
<text x="582.15" y="421.60" font-size="8" fill="#222" stroke="#222" stroke-width="0.25" >0.01</text>
<path d="M603.57,409.60H606.98M605.27,407.65V411.55" stroke="#222" stroke-width="0.95" fill="none"/>
<path d="M608.02,409.60H611.43M609.73,407.65V411.55" stroke="#222" stroke-width="0.95" fill="none"/>
<text x="601.97" y="421.60" font-size="8" fill="#222" stroke="#222" stroke-width="0.25" >0.1</text>
<path d="M618.85,409.60H622.25M620.55,407.65V411.55" stroke="#222" stroke-width="0.95" fill="none"/>
<path d="M623.30,409.60H626.70M625.00,407.65V411.55" stroke="#222" stroke-width="0.95" fill="none"/>
<path d="M627.75,409.60H631.15M629.45,407.65V411.55" stroke="#222" stroke-width="0.95" fill="none"/>
<text x="622.67" y="421.60" font-size="8" fill="#222" stroke="#222" stroke-width="0.25" >1</text>
<path d="M637.52,409.60H640.93M639.23,407.65V411.55" stroke="#222" stroke-width="0.95" fill="none"/>
<path d="M641.97,409.60H645.38M643.67,407.65V411.55" stroke="#222" stroke-width="0.95" fill="none"/>
<path d="M646.42,409.60H649.83M648.12,407.65V411.55" stroke="#222" stroke-width="0.95" fill="none"/>
<path d="M650.87,409.60H654.27M652.57,407.65V411.55" stroke="#222" stroke-width="0.95" fill="none"/>
<text x="641.31" y="421.60" font-size="8" fill="#222" stroke="#222" stroke-width="0.25" >10</text>
<line x1="661.55" y1="412.90" x2="664.05" y2="412.90" stroke="#333" stroke-width="1.0" />
<text x="521.79" y="432.70" font-size="8" fill="#222" stroke="#222" stroke-width="0.25">CPS14<tspan font-size="5.2" dy="-2.8">+</tspan></text>
<text x="518.84" y="442.90" font-size="8" fill="#222" stroke="#222" stroke-width="0.25" >EcN MVs</text>
<line x1="570.85" y1="435.80" x2="573.35" y2="435.80" stroke="#333" stroke-width="1.0" />
<line x1="588.65" y1="435.80" x2="591.15" y2="435.80" stroke="#333" stroke-width="1.0" />
<line x1="606.25" y1="435.80" x2="608.75" y2="435.80" stroke="#333" stroke-width="1.0" />
<line x1="623.75" y1="435.80" x2="626.25" y2="435.80" stroke="#333" stroke-width="1.0" />
<line x1="641.85" y1="435.80" x2="644.35" y2="435.80" stroke="#333" stroke-width="1.0" />
<path d="M661.10,430.00H664.50M662.80,428.05V431.95" stroke="#222" stroke-width="0.95" fill="none"/>
<text x="660.47" y="440.90" font-size="8" fill="#222" stroke="#222" stroke-width="0.25" >1</text>
<line x1="47.60" y1="510.20" x2="47.60" y2="624.90" stroke="#333" stroke-width="1.2" />
<line x1="45.40" y1="624.30" x2="47.60" y2="624.30" stroke="#333" stroke-width="1.0" />
<text x="40.54" y="626.90" font-size="7.3" font-weight="bold" fill="#1a1a1a" stroke="#1a1a1a" stroke-width="0.1" >0</text>
<line x1="45.40" y1="595.90" x2="47.60" y2="595.90" stroke="#333" stroke-width="1.0" />
<text x="40.45" y="598.50" font-size="7.3" font-weight="bold" fill="#1a1a1a" stroke="#1a1a1a" stroke-width="0.1" >1</text>
<line x1="45.40" y1="567.50" x2="47.60" y2="567.50" stroke="#333" stroke-width="1.0" />
<text x="40.52" y="570.10" font-size="7.3" font-weight="bold" fill="#1a1a1a" stroke="#1a1a1a" stroke-width="0.1" >2</text>
<line x1="45.40" y1="539.10" x2="47.60" y2="539.10" stroke="#333" stroke-width="1.0" />
<text x="40.50" y="541.70" font-size="7.3" font-weight="bold" fill="#1a1a1a" stroke="#1a1a1a" stroke-width="0.1" >3</text>
<line x1="45.40" y1="510.70" x2="47.60" y2="510.70" stroke="#333" stroke-width="1.0" />
<text x="40.29" y="513.30" font-size="7.3" font-weight="bold" fill="#1a1a1a" stroke="#1a1a1a" stroke-width="0.1" >4</text>
<circle cx="52.05" cy="624.00" r="1.3" fill="#111"/>
<circle cx="55.55" cy="624.00" r="1.3" fill="#111"/>
<circle cx="59.05" cy="624.00" r="1.3" fill="#111"/>
<circle cx="62.55" cy="624.00" r="1.3" fill="#111"/>
<line x1="57.30" y1="624.30" x2="57.30" y2="627.10" stroke="#333" stroke-width="0.9" />
<circle cx="71.05" cy="624.00" r="1.3" fill="#111"/>
<circle cx="74.55" cy="624.00" r="1.3" fill="#111"/>
<circle cx="78.05" cy="624.00" r="1.3" fill="#111"/>
<circle cx="81.55" cy="624.00" r="1.3" fill="#111"/>
<line x1="76.30" y1="624.30" x2="76.30" y2="627.10" stroke="#333" stroke-width="0.9" />
<circle cx="90.05" cy="624.00" r="1.3" fill="#111"/>
<circle cx="93.55" cy="624.00" r="1.3" fill="#111"/>
<circle cx="97.05" cy="624.00" r="1.3" fill="#111"/>
<circle cx="100.55" cy="624.00" r="1.3" fill="#111"/>
<line x1="95.30" y1="624.30" x2="95.30" y2="627.10" stroke="#333" stroke-width="0.9" />
<circle cx="109.05" cy="624.00" r="1.3" fill="#111"/>
<circle cx="112.55" cy="624.00" r="1.3" fill="#111"/>
<circle cx="116.05" cy="624.00" r="1.3" fill="#111"/>
<circle cx="119.55" cy="624.00" r="1.3" fill="#111"/>
<line x1="114.30" y1="624.30" x2="114.30" y2="627.10" stroke="#333" stroke-width="0.9" />
<circle cx="128.05" cy="624.00" r="1.3" fill="#111"/>
<circle cx="131.55" cy="624.00" r="1.3" fill="#111"/>
<circle cx="135.05" cy="624.00" r="1.3" fill="#111"/>
<circle cx="138.55" cy="624.00" r="1.3" fill="#111"/>
<line x1="133.30" y1="624.30" x2="133.30" y2="627.10" stroke="#333" stroke-width="0.9" />
<rect x="146.40" y="574.40" width="11.80" height="49.90" fill="#ff2800" stroke="#151515" stroke-width="1.3"/>
<line x1="152.30" y1="539.50" x2="152.30" y2="609.50" stroke="#444" stroke-width="0.9" />
<line x1="149.20" y1="539.50" x2="155.40" y2="539.50" stroke="#444" stroke-width="0.95" />
<line x1="149.20" y1="609.50" x2="155.40" y2="609.50" stroke="#444" stroke-width="0.95" />
<circle cx="152.30" cy="532.60" r="1.4" fill="#111"/>
<circle cx="152.30" cy="560.40" r="1.4" fill="#111"/>
<circle cx="152.30" cy="592.40" r="1.4" fill="#111"/>
<circle cx="152.30" cy="611.60" r="1.4" fill="#111"/>
<line x1="152.30" y1="624.30" x2="152.30" y2="627.10" stroke="#333" stroke-width="0.9" />
<line x1="47.00" y1="624.30" x2="161.20" y2="624.30" stroke="#333" stroke-width="1.3" />
<text x="95.33" y="508.70" font-size="12" fill="#111" stroke="#111" stroke-width="0.25" >IgG1</text>
<polygon points="143.38,518.90 144.08,520.59 145.90,520.73 144.51,521.92 144.93,523.69 143.38,522.74 141.82,523.69 142.24,521.92 140.85,520.73 142.67,520.59" fill="#111"/>
<polygon points="148.53,518.90 149.23,520.59 151.05,520.73 149.66,521.92 150.08,523.69 148.53,522.74 146.97,523.69 147.39,521.92 146.00,520.73 147.82,520.59" fill="#111"/>
<polygon points="153.68,518.90 154.38,520.59 156.20,520.73 154.81,521.92 155.23,523.69 153.68,522.74 152.12,523.69 152.54,521.92 151.15,520.73 152.97,520.59" fill="#111"/>
<polygon points="158.82,518.90 159.53,520.59 161.35,520.73 159.96,521.92 160.38,523.69 158.82,522.74 157.27,523.69 157.69,521.92 156.30,520.73 158.12,520.59" fill="#111"/>
<text x="96.93" y="606.30" font-size="10.5" fill="#111" stroke="#111" stroke-width="0.25" >ND</text>
<line x1="71.30" y1="611.30" x2="137.00" y2="611.30" stroke="#444" stroke-width="1.0" />
<text transform="translate(19.70,580.40) rotate(-90) scale(0.955,1)" font-size="9.9" font-weight="bold" fill="#111" stroke="#111" stroke-width="0.12">OD<tspan font-size="7.6" dy="3.0">405</tspan></text>
<line x1="2.60" y1="630.60" x2="159.70" y2="630.60" stroke="#2a2a2a" stroke-width="1.25" />
<line x1="2.60" y1="652.40" x2="159.70" y2="652.40" stroke="#2a2a2a" stroke-width="1.25" />
<line x1="2.60" y1="672.70" x2="159.70" y2="672.70" stroke="#2a2a2a" stroke-width="1.25" />
<line x1="2.60" y1="693.10" x2="159.70" y2="693.10" stroke="#2a2a2a" stroke-width="1.25" />
<line x1="46.00" y1="630.60" x2="46.00" y2="693.10" stroke="#1a1a1a" stroke-width="1.25" />
<text x="2.36" y="644.20" font-size="8" fill="#222" stroke="#222" stroke-width="0.25" >Empty MVs</text>
<path d="M57.60,638.30H61.00M59.30,636.35V640.25" stroke="#222" stroke-width="0.95" fill="none"/>
<text x="56.97" y="648.60" font-size="8" fill="#222" stroke="#222" stroke-width="0.25" >1</text>
<path d="M74.90,638.30H78.30M76.60,636.35V640.25" stroke="#222" stroke-width="0.95" fill="none"/>
<text x="74.27" y="648.60" font-size="8" fill="#222" stroke="#222" stroke-width="0.25" >1</text>
<path d="M92.80,638.30H96.20M94.50,636.35V640.25" stroke="#222" stroke-width="0.95" fill="none"/>
<text x="92.17" y="648.60" font-size="8" fill="#222" stroke="#222" stroke-width="0.25" >1</text>
<path d="M110.70,638.30H114.10M112.40,636.35V640.25" stroke="#222" stroke-width="0.95" fill="none"/>
<text x="110.07" y="648.60" font-size="8" fill="#222" stroke="#222" stroke-width="0.25" >1</text>
<path d="M128.10,638.30H131.50M129.80,636.35V640.25" stroke="#222" stroke-width="0.95" fill="none"/>
<text x="127.47" y="648.60" font-size="8" fill="#222" stroke="#222" stroke-width="0.25" >1</text>
<line x1="148.75" y1="641.50" x2="151.25" y2="641.50" stroke="#333" stroke-width="1.0" />
<text x="14.62" y="660.40" font-size="8" fill="#222" stroke="#222" stroke-width="0.25" >Free</text>
<text x="10.24" y="670.60" font-size="8" fill="#222" stroke="#222" stroke-width="0.25" >CPS14</text>
<line x1="58.05" y1="662.60" x2="60.55" y2="662.60" stroke="#333" stroke-width="1.0" />
<path d="M74.90,657.70H78.30M76.60,655.75V659.65" stroke="#222" stroke-width="0.95" fill="none"/>
<text x="68.85" y="669.70" font-size="8" fill="#222" stroke="#222" stroke-width="0.25" >0.01</text>
<path d="M90.58,657.70H93.98M92.28,655.75V659.65" stroke="#222" stroke-width="0.95" fill="none"/>
<path d="M95.02,657.70H98.42M96.72,655.75V659.65" stroke="#222" stroke-width="0.95" fill="none"/>
<text x="88.97" y="669.70" font-size="8" fill="#222" stroke="#222" stroke-width="0.25" >0.1</text>
<path d="M106.25,657.70H109.65M107.95,655.75V659.65" stroke="#222" stroke-width="0.95" fill="none"/>
<path d="M110.70,657.70H114.10M112.40,655.75V659.65" stroke="#222" stroke-width="0.95" fill="none"/>
<path d="M115.15,657.70H118.55M116.85,655.75V659.65" stroke="#222" stroke-width="0.95" fill="none"/>
<text x="110.07" y="669.70" font-size="8" fill="#222" stroke="#222" stroke-width="0.25" >1</text>
<path d="M124.23,657.70H127.63M125.93,655.75V659.65" stroke="#222" stroke-width="0.95" fill="none"/>
<path d="M128.68,657.70H132.08M130.38,655.75V659.65" stroke="#222" stroke-width="0.95" fill="none"/>
<path d="M133.13,657.70H136.53M134.83,655.75V659.65" stroke="#222" stroke-width="0.95" fill="none"/>
<path d="M137.58,657.70H140.98M139.28,655.75V659.65" stroke="#222" stroke-width="0.95" fill="none"/>
<text x="128.01" y="669.70" font-size="8" fill="#222" stroke="#222" stroke-width="0.25" >10</text>
<line x1="148.75" y1="661.00" x2="151.25" y2="661.00" stroke="#333" stroke-width="1.0" />
<text x="9.09" y="680.70" font-size="8" fill="#222" stroke="#222" stroke-width="0.25">CPS14<tspan font-size="5.2" dy="-2.8">+</tspan></text>
<text x="6.14" y="690.90" font-size="8" fill="#222" stroke="#222" stroke-width="0.25" >EcN MVs</text>
<line x1="58.05" y1="683.80" x2="60.55" y2="683.80" stroke="#333" stroke-width="1.0" />
<line x1="75.35" y1="683.80" x2="77.85" y2="683.80" stroke="#333" stroke-width="1.0" />
<line x1="93.25" y1="683.80" x2="95.75" y2="683.80" stroke="#333" stroke-width="1.0" />
<line x1="111.15" y1="683.80" x2="113.65" y2="683.80" stroke="#333" stroke-width="1.0" />
<line x1="128.55" y1="683.80" x2="131.05" y2="683.80" stroke="#333" stroke-width="1.0" />
<path d="M148.30,678.00H151.70M150.00,676.05V679.95" stroke="#222" stroke-width="0.95" fill="none"/>
<text x="147.67" y="688.90" font-size="8" fill="#222" stroke="#222" stroke-width="0.25" >1</text>
<line x1="215.40" y1="510.10" x2="215.40" y2="624.20" stroke="#333" stroke-width="1.2" />
<line x1="213.20" y1="623.60" x2="215.40" y2="623.60" stroke="#333" stroke-width="1.0" />
<text x="202.25" y="626.20" font-size="7.3" font-weight="bold" fill="#1a1a1a" stroke="#1a1a1a" stroke-width="0.1" >0.0</text>
<line x1="213.20" y1="595.35" x2="215.40" y2="595.35" stroke="#333" stroke-width="1.0" />
<text x="202.15" y="597.95" font-size="7.3" font-weight="bold" fill="#1a1a1a" stroke="#1a1a1a" stroke-width="0.1" >0.5</text>
<line x1="213.20" y1="567.10" x2="215.40" y2="567.10" stroke="#333" stroke-width="1.0" />
<text x="202.24" y="569.70" font-size="7.3" font-weight="bold" fill="#1a1a1a" stroke="#1a1a1a" stroke-width="0.1" >1.0</text>
<line x1="213.20" y1="538.85" x2="215.40" y2="538.85" stroke="#333" stroke-width="1.0" />
<text x="202.15" y="541.45" font-size="7.3" font-weight="bold" fill="#1a1a1a" stroke="#1a1a1a" stroke-width="0.1" >1.5</text>
<line x1="213.20" y1="510.60" x2="215.40" y2="510.60" stroke="#333" stroke-width="1.0" />
<text x="202.24" y="513.20" font-size="7.3" font-weight="bold" fill="#1a1a1a" stroke="#1a1a1a" stroke-width="0.1" >2.0</text>
<circle cx="219.55" cy="623.10" r="1.25" fill="#111"/>
<circle cx="223.05" cy="623.10" r="1.25" fill="#111"/>
<circle cx="226.55" cy="623.10" r="1.25" fill="#111"/>
<circle cx="230.05" cy="623.10" r="1.25" fill="#111"/>
<line x1="224.80" y1="623.60" x2="224.80" y2="626.40" stroke="#333" stroke-width="0.9" />
<circle cx="238.55" cy="623.10" r="1.25" fill="#111"/>
<circle cx="242.05" cy="623.10" r="1.25" fill="#111"/>
<circle cx="245.55" cy="623.10" r="1.25" fill="#111"/>
<circle cx="249.05" cy="623.10" r="1.25" fill="#111"/>
<line x1="243.80" y1="623.60" x2="243.80" y2="626.40" stroke="#333" stroke-width="0.9" />
<circle cx="257.55" cy="623.10" r="1.25" fill="#111"/>
<circle cx="261.05" cy="623.10" r="1.25" fill="#111"/>
<circle cx="264.55" cy="623.10" r="1.25" fill="#111"/>
<circle cx="268.05" cy="623.10" r="1.25" fill="#111"/>
<line x1="262.80" y1="623.60" x2="262.80" y2="626.40" stroke="#333" stroke-width="0.9" />
<circle cx="276.55" cy="623.10" r="1.25" fill="#111"/>
<circle cx="280.05" cy="623.10" r="1.25" fill="#111"/>
<circle cx="283.55" cy="623.10" r="1.25" fill="#111"/>
<circle cx="287.05" cy="623.10" r="1.25" fill="#111"/>
<line x1="281.80" y1="623.60" x2="281.80" y2="626.40" stroke="#333" stroke-width="0.9" />
<circle cx="295.55" cy="623.10" r="1.25" fill="#111"/>
<circle cx="299.05" cy="623.10" r="1.25" fill="#111"/>
<circle cx="302.55" cy="623.10" r="1.25" fill="#111"/>
<circle cx="306.05" cy="623.10" r="1.25" fill="#111"/>
<line x1="300.80" y1="623.60" x2="300.80" y2="626.40" stroke="#333" stroke-width="0.9" />
<rect x="313.90" y="573.40" width="11.80" height="50.20" fill="#ff2800" stroke="#151515" stroke-width="1.3"/>
<line x1="319.80" y1="544.60" x2="319.80" y2="601.20" stroke="#444" stroke-width="0.9" />
<line x1="316.70" y1="544.60" x2="322.90" y2="544.60" stroke="#444" stroke-width="0.95" />
<line x1="316.70" y1="601.20" x2="322.90" y2="601.20" stroke="#444" stroke-width="0.95" />
<circle cx="319.80" cy="545.90" r="1.4" fill="#111"/>
<circle cx="319.80" cy="550.10" r="1.4" fill="#111"/>
<circle cx="317.00" cy="597.30" r="1.4" fill="#111"/>
<circle cx="321.90" cy="597.30" r="1.4" fill="#111"/>
<line x1="319.80" y1="623.60" x2="319.80" y2="626.40" stroke="#333" stroke-width="0.9" />
<line x1="214.80" y1="623.60" x2="329.00" y2="623.60" stroke="#333" stroke-width="1.3" />
<text x="256.29" y="508.10" font-size="12" fill="#111" stroke="#111" stroke-width="0.25" >IgG2a</text>
<polygon points="312.47,534.80 313.18,536.49 315.00,536.63 313.61,537.82 314.03,539.59 312.47,538.64 310.92,539.59 311.34,537.82 309.95,536.63 311.77,536.49" fill="#111"/>
<polygon points="317.62,534.80 318.33,536.49 320.15,536.63 318.76,537.82 319.18,539.59 317.62,538.64 316.07,539.59 316.49,537.82 315.10,536.63 316.92,536.49" fill="#111"/>
<polygon points="322.77,534.80 323.48,536.49 325.30,536.63 323.91,537.82 324.33,539.59 322.77,538.64 321.22,539.59 321.64,537.82 320.25,536.63 322.07,536.49" fill="#111"/>
<polygon points="327.92,534.80 328.63,536.49 330.45,536.63 329.06,537.82 329.48,539.59 327.92,538.64 326.37,539.59 326.79,537.82 325.40,536.63 327.22,536.49" fill="#111"/>
<text x="264.74" y="607.20" font-size="10.5" fill="#111" stroke="#111" stroke-width="0.25" >ND</text>
<line x1="239.00" y1="612.10" x2="304.80" y2="612.10" stroke="#444" stroke-width="1.0" />
<text transform="translate(181.70,580.40) rotate(-90) scale(0.955,1)" font-size="9.9" font-weight="bold" fill="#111" stroke="#111" stroke-width="0.12">OD<tspan font-size="7.6" dy="3.0">405</tspan></text>
<line x1="172.20" y1="630.60" x2="329.30" y2="630.60" stroke="#2a2a2a" stroke-width="1.25" />
<line x1="172.20" y1="652.40" x2="329.30" y2="652.40" stroke="#2a2a2a" stroke-width="1.25" />
<line x1="172.20" y1="672.70" x2="329.30" y2="672.70" stroke="#2a2a2a" stroke-width="1.25" />
<line x1="172.20" y1="693.10" x2="329.30" y2="693.10" stroke="#2a2a2a" stroke-width="1.25" />
<line x1="215.60" y1="630.60" x2="215.60" y2="693.10" stroke="#1a1a1a" stroke-width="1.25" />
<text x="171.96" y="644.20" font-size="8" fill="#222" stroke="#222" stroke-width="0.25" >Empty MVs</text>
<path d="M227.20,638.30H230.60M228.90,636.35V640.25" stroke="#222" stroke-width="0.95" fill="none"/>
<text x="226.57" y="648.60" font-size="8" fill="#222" stroke="#222" stroke-width="0.25" >1</text>
<path d="M245.10,638.30H248.50M246.80,636.35V640.25" stroke="#222" stroke-width="0.95" fill="none"/>
<text x="244.47" y="648.60" font-size="8" fill="#222" stroke="#222" stroke-width="0.25" >1</text>
<path d="M262.90,638.30H266.30M264.60,636.35V640.25" stroke="#222" stroke-width="0.95" fill="none"/>
<text x="262.27" y="648.60" font-size="8" fill="#222" stroke="#222" stroke-width="0.25" >1</text>
<path d="M280.30,638.30H283.70M282.00,636.35V640.25" stroke="#222" stroke-width="0.95" fill="none"/>
<text x="279.67" y="648.60" font-size="8" fill="#222" stroke="#222" stroke-width="0.25" >1</text>
<path d="M297.90,638.30H301.30M299.60,636.35V640.25" stroke="#222" stroke-width="0.95" fill="none"/>
<text x="297.27" y="648.60" font-size="8" fill="#222" stroke="#222" stroke-width="0.25" >1</text>
<line x1="315.75" y1="641.50" x2="318.25" y2="641.50" stroke="#333" stroke-width="1.0" />
<text x="184.22" y="660.40" font-size="8" fill="#222" stroke="#222" stroke-width="0.25" >Free</text>
<text x="179.84" y="670.60" font-size="8" fill="#222" stroke="#222" stroke-width="0.25" >CPS14</text>
<line x1="227.65" y1="662.60" x2="230.15" y2="662.60" stroke="#333" stroke-width="1.0" />
<path d="M245.10,657.70H248.50M246.80,655.75V659.65" stroke="#222" stroke-width="0.95" fill="none"/>
<text x="239.05" y="669.70" font-size="8" fill="#222" stroke="#222" stroke-width="0.25" >0.01</text>
<path d="M260.68,657.70H264.07M262.38,655.75V659.65" stroke="#222" stroke-width="0.95" fill="none"/>
<path d="M265.13,657.70H268.53M266.83,655.75V659.65" stroke="#222" stroke-width="0.95" fill="none"/>
<text x="259.07" y="669.70" font-size="8" fill="#222" stroke="#222" stroke-width="0.25" >0.1</text>
<path d="M275.85,657.70H279.25M277.55,655.75V659.65" stroke="#222" stroke-width="0.95" fill="none"/>
<path d="M280.30,657.70H283.70M282.00,655.75V659.65" stroke="#222" stroke-width="0.95" fill="none"/>
<path d="M284.75,657.70H288.15M286.45,655.75V659.65" stroke="#222" stroke-width="0.95" fill="none"/>
<text x="279.67" y="669.70" font-size="8" fill="#222" stroke="#222" stroke-width="0.25" >1</text>
<path d="M294.03,657.70H297.43M295.73,655.75V659.65" stroke="#222" stroke-width="0.95" fill="none"/>
<path d="M298.48,657.70H301.88M300.18,655.75V659.65" stroke="#222" stroke-width="0.95" fill="none"/>
<path d="M302.93,657.70H306.33M304.63,655.75V659.65" stroke="#222" stroke-width="0.95" fill="none"/>
<path d="M307.38,657.70H310.78M309.08,655.75V659.65" stroke="#222" stroke-width="0.95" fill="none"/>
<text x="297.81" y="669.70" font-size="8" fill="#222" stroke="#222" stroke-width="0.25" >10</text>
<line x1="315.75" y1="661.00" x2="318.25" y2="661.00" stroke="#333" stroke-width="1.0" />
<text x="178.69" y="680.70" font-size="8" fill="#222" stroke="#222" stroke-width="0.25">CPS14<tspan font-size="5.2" dy="-2.8">+</tspan></text>
<text x="175.74" y="690.90" font-size="8" fill="#222" stroke="#222" stroke-width="0.25" >EcN MVs</text>
<line x1="227.65" y1="683.80" x2="230.15" y2="683.80" stroke="#333" stroke-width="1.0" />
<line x1="245.55" y1="683.80" x2="248.05" y2="683.80" stroke="#333" stroke-width="1.0" />
<line x1="263.35" y1="683.80" x2="265.85" y2="683.80" stroke="#333" stroke-width="1.0" />
<line x1="280.75" y1="683.80" x2="283.25" y2="683.80" stroke="#333" stroke-width="1.0" />
<line x1="298.35" y1="683.80" x2="300.85" y2="683.80" stroke="#333" stroke-width="1.0" />
<path d="M319.70,678.00H323.10M321.40,676.05V679.95" stroke="#222" stroke-width="0.95" fill="none"/>
<text x="319.07" y="688.90" font-size="8" fill="#222" stroke="#222" stroke-width="0.25" >1</text>
<line x1="383.40" y1="510.60" x2="383.40" y2="624.80" stroke="#333" stroke-width="1.2" />
<line x1="381.20" y1="624.20" x2="383.40" y2="624.20" stroke="#333" stroke-width="1.0" />
<text x="376.34" y="626.80" font-size="7.3" font-weight="bold" fill="#1a1a1a" stroke="#1a1a1a" stroke-width="0.1" >0</text>
<line x1="381.20" y1="586.50" x2="383.40" y2="586.50" stroke="#333" stroke-width="1.0" />
<text x="376.25" y="589.10" font-size="7.3" font-weight="bold" fill="#1a1a1a" stroke="#1a1a1a" stroke-width="0.1" >1</text>
<line x1="381.20" y1="548.80" x2="383.40" y2="548.80" stroke="#333" stroke-width="1.0" />
<text x="376.32" y="551.40" font-size="7.3" font-weight="bold" fill="#1a1a1a" stroke="#1a1a1a" stroke-width="0.1" >2</text>
<line x1="381.20" y1="511.10" x2="383.40" y2="511.10" stroke="#333" stroke-width="1.0" />
<text x="376.30" y="513.70" font-size="7.3" font-weight="bold" fill="#1a1a1a" stroke="#1a1a1a" stroke-width="0.1" >3</text>
<circle cx="387.75" cy="623.60" r="1.25" fill="#111"/>
<circle cx="391.25" cy="623.60" r="1.25" fill="#111"/>
<circle cx="394.75" cy="623.60" r="1.25" fill="#111"/>
<circle cx="398.25" cy="623.60" r="1.25" fill="#111"/>
<line x1="393.00" y1="624.20" x2="393.00" y2="627.00" stroke="#333" stroke-width="0.9" />
<circle cx="406.75" cy="623.60" r="1.25" fill="#111"/>
<circle cx="410.25" cy="623.60" r="1.25" fill="#111"/>
<circle cx="413.75" cy="623.60" r="1.25" fill="#111"/>
<circle cx="417.25" cy="623.60" r="1.25" fill="#111"/>
<line x1="412.00" y1="624.20" x2="412.00" y2="627.00" stroke="#333" stroke-width="0.9" />
<circle cx="425.75" cy="623.60" r="1.25" fill="#111"/>
<circle cx="429.25" cy="623.60" r="1.25" fill="#111"/>
<circle cx="432.75" cy="623.60" r="1.25" fill="#111"/>
<circle cx="436.25" cy="623.60" r="1.25" fill="#111"/>
<line x1="431.00" y1="624.20" x2="431.00" y2="627.00" stroke="#333" stroke-width="0.9" />
<circle cx="444.75" cy="623.60" r="1.25" fill="#111"/>
<circle cx="448.25" cy="623.60" r="1.25" fill="#111"/>
<circle cx="451.75" cy="623.60" r="1.25" fill="#111"/>
<circle cx="455.25" cy="623.60" r="1.25" fill="#111"/>
<line x1="450.00" y1="624.20" x2="450.00" y2="627.00" stroke="#333" stroke-width="0.9" />
<circle cx="463.75" cy="623.60" r="1.25" fill="#111"/>
<circle cx="467.25" cy="623.60" r="1.25" fill="#111"/>
<circle cx="470.75" cy="623.60" r="1.25" fill="#111"/>
<circle cx="474.25" cy="623.60" r="1.25" fill="#111"/>
<line x1="469.00" y1="624.20" x2="469.00" y2="627.00" stroke="#333" stroke-width="0.9" />
<rect x="482.10" y="569.00" width="11.80" height="55.20" fill="#ff2800" stroke="#151515" stroke-width="1.3"/>
<line x1="488.00" y1="537.20" x2="488.00" y2="601.00" stroke="#444" stroke-width="0.9" />
<line x1="484.90" y1="537.20" x2="491.10" y2="537.20" stroke="#444" stroke-width="0.95" />
<line x1="484.90" y1="601.00" x2="491.10" y2="601.00" stroke="#444" stroke-width="0.95" />
<circle cx="488.00" cy="523.50" r="1.4" fill="#111"/>
<circle cx="488.00" cy="569.50" r="1.4" fill="#111"/>
<circle cx="488.00" cy="588.80" r="1.4" fill="#111"/>
<circle cx="488.00" cy="593.80" r="1.4" fill="#111"/>
<line x1="488.00" y1="624.20" x2="488.00" y2="627.00" stroke="#333" stroke-width="0.9" />
<line x1="382.80" y1="624.20" x2="497.00" y2="624.20" stroke="#333" stroke-width="1.3" />
<text x="427.85" y="509.60" font-size="12" fill="#111" stroke="#111" stroke-width="0.25" >IgG2b</text>
<polygon points="481.88,512.00 482.58,513.69 484.40,513.83 483.01,515.02 483.43,516.79 481.88,515.84 480.32,516.79 480.74,515.02 479.35,513.83 481.17,513.69" fill="#111"/>
<polygon points="487.02,512.00 487.73,513.69 489.55,513.83 488.16,515.02 488.58,516.79 487.02,515.84 485.47,516.79 485.89,515.02 484.50,513.83 486.32,513.69" fill="#111"/>
<polygon points="492.18,512.00 492.88,513.69 494.70,513.83 493.31,515.02 493.73,516.79 492.18,515.84 490.62,516.79 491.04,515.02 489.65,513.83 491.47,513.69" fill="#111"/>
<polygon points="497.32,512.00 498.03,513.69 499.85,513.83 498.46,515.02 498.88,516.79 497.32,515.84 495.77,516.79 496.19,515.02 494.80,513.83 496.62,513.69" fill="#111"/>
<text x="434.10" y="606.70" font-size="10.5" fill="#111" stroke="#111" stroke-width="0.25" textLength="15.71" lengthAdjust="spacingAndGlyphs" >ND</text>
<line x1="409.00" y1="611.70" x2="474.80" y2="611.70" stroke="#444" stroke-width="1.0" />
<text transform="translate(355.30,580.60) rotate(-90) scale(0.955,1)" font-size="9.9" font-weight="bold" fill="#111" stroke="#111" stroke-width="0.12">OD<tspan font-size="7.6" dy="3.0">405</tspan></text>
<line x1="339.60" y1="630.60" x2="497.20" y2="630.60" stroke="#2a2a2a" stroke-width="1.25" />
<line x1="339.60" y1="652.40" x2="497.20" y2="652.40" stroke="#2a2a2a" stroke-width="1.25" />
<line x1="339.60" y1="672.70" x2="497.20" y2="672.70" stroke="#2a2a2a" stroke-width="1.25" />
<line x1="339.60" y1="693.10" x2="497.20" y2="693.10" stroke="#2a2a2a" stroke-width="1.25" />
<line x1="382.80" y1="630.60" x2="382.80" y2="693.10" stroke="#1a1a1a" stroke-width="1.25" />
<text x="339.26" y="644.20" font-size="8" fill="#222" stroke="#222" stroke-width="0.25" >Empty MVs</text>
<path d="M394.60,638.30H398.00M396.30,636.35V640.25" stroke="#222" stroke-width="0.95" fill="none"/>
<text x="393.97" y="648.60" font-size="8" fill="#222" stroke="#222" stroke-width="0.25" >1</text>
<path d="M412.50,638.30H415.90M414.20,636.35V640.25" stroke="#222" stroke-width="0.95" fill="none"/>
<text x="411.87" y="648.60" font-size="8" fill="#222" stroke="#222" stroke-width="0.25" >1</text>
<path d="M429.90,638.30H433.30M431.60,636.35V640.25" stroke="#222" stroke-width="0.95" fill="none"/>
<text x="429.27" y="648.60" font-size="8" fill="#222" stroke="#222" stroke-width="0.25" >1</text>
<path d="M447.50,638.30H450.90M449.20,636.35V640.25" stroke="#222" stroke-width="0.95" fill="none"/>
<text x="446.87" y="648.60" font-size="8" fill="#222" stroke="#222" stroke-width="0.25" >1</text>
<path d="M465.40,638.30H468.80M467.10,636.35V640.25" stroke="#222" stroke-width="0.95" fill="none"/>
<text x="464.77" y="648.60" font-size="8" fill="#222" stroke="#222" stroke-width="0.25" >1</text>
<line x1="483.95" y1="641.50" x2="486.45" y2="641.50" stroke="#333" stroke-width="1.0" />
<text x="351.52" y="660.40" font-size="8" fill="#222" stroke="#222" stroke-width="0.25" >Free</text>
<text x="347.14" y="670.60" font-size="8" fill="#222" stroke="#222" stroke-width="0.25" >CPS14</text>
<line x1="395.05" y1="662.60" x2="397.55" y2="662.60" stroke="#333" stroke-width="1.0" />
<path d="M412.50,657.70H415.90M414.20,655.75V659.65" stroke="#222" stroke-width="0.95" fill="none"/>
<text x="406.45" y="669.70" font-size="8" fill="#222" stroke="#222" stroke-width="0.25" >0.01</text>
<path d="M427.68,657.70H431.07M429.38,655.75V659.65" stroke="#222" stroke-width="0.95" fill="none"/>
<path d="M432.13,657.70H435.53M433.83,655.75V659.65" stroke="#222" stroke-width="0.95" fill="none"/>
<text x="426.07" y="669.70" font-size="8" fill="#222" stroke="#222" stroke-width="0.25" >0.1</text>
<path d="M443.05,657.70H446.45M444.75,655.75V659.65" stroke="#222" stroke-width="0.95" fill="none"/>
<path d="M447.50,657.70H450.90M449.20,655.75V659.65" stroke="#222" stroke-width="0.95" fill="none"/>
<path d="M451.95,657.70H455.35M453.65,655.75V659.65" stroke="#222" stroke-width="0.95" fill="none"/>
<text x="446.87" y="669.70" font-size="8" fill="#222" stroke="#222" stroke-width="0.25" >1</text>
<path d="M461.53,657.70H464.93M463.23,655.75V659.65" stroke="#222" stroke-width="0.95" fill="none"/>
<path d="M465.98,657.70H469.38M467.68,655.75V659.65" stroke="#222" stroke-width="0.95" fill="none"/>
<path d="M470.43,657.70H473.83M472.13,655.75V659.65" stroke="#222" stroke-width="0.95" fill="none"/>
<path d="M474.88,657.70H478.28M476.58,655.75V659.65" stroke="#222" stroke-width="0.95" fill="none"/>
<text x="465.31" y="669.70" font-size="8" fill="#222" stroke="#222" stroke-width="0.25" >10</text>
<line x1="483.95" y1="658.70" x2="486.45" y2="658.70" stroke="#333" stroke-width="1.0" />
<text x="345.99" y="680.70" font-size="8" fill="#222" stroke="#222" stroke-width="0.25">CPS14<tspan font-size="5.2" dy="-2.8">+</tspan></text>
<text x="343.04" y="690.90" font-size="8" fill="#222" stroke="#222" stroke-width="0.25" >EcN MVs</text>
<line x1="395.05" y1="683.80" x2="397.55" y2="683.80" stroke="#333" stroke-width="1.0" />
<line x1="412.95" y1="683.80" x2="415.45" y2="683.80" stroke="#333" stroke-width="1.0" />
<line x1="430.35" y1="683.80" x2="432.85" y2="683.80" stroke="#333" stroke-width="1.0" />
<line x1="447.95" y1="683.80" x2="450.45" y2="683.80" stroke="#333" stroke-width="1.0" />
<line x1="465.85" y1="683.80" x2="468.35" y2="683.80" stroke="#333" stroke-width="1.0" />
<path d="M486.60,678.00H490.00M488.30,676.05V679.95" stroke="#222" stroke-width="0.95" fill="none"/>
<text x="485.97" y="688.90" font-size="8" fill="#222" stroke="#222" stroke-width="0.25" >1</text>
<line x1="559.40" y1="510.80" x2="559.40" y2="624.50" stroke="#333" stroke-width="1.2" />
<line x1="557.20" y1="623.90" x2="559.40" y2="623.90" stroke="#333" stroke-width="1.0" />
<text x="546.25" y="626.50" font-size="7.3" font-weight="bold" fill="#1a1a1a" stroke="#1a1a1a" stroke-width="0.1" >0.0</text>
<line x1="557.20" y1="595.75" x2="559.40" y2="595.75" stroke="#333" stroke-width="1.0" />
<text x="546.15" y="598.35" font-size="7.3" font-weight="bold" fill="#1a1a1a" stroke="#1a1a1a" stroke-width="0.1" >0.5</text>
<line x1="557.20" y1="567.60" x2="559.40" y2="567.60" stroke="#333" stroke-width="1.0" />
<text x="546.25" y="570.20" font-size="7.3" font-weight="bold" fill="#1a1a1a" stroke="#1a1a1a" stroke-width="0.1" >1.0</text>
<line x1="557.20" y1="539.45" x2="559.40" y2="539.45" stroke="#333" stroke-width="1.0" />
<text x="546.15" y="542.05" font-size="7.3" font-weight="bold" fill="#1a1a1a" stroke="#1a1a1a" stroke-width="0.1" >1.5</text>
<line x1="557.20" y1="511.30" x2="559.40" y2="511.30" stroke="#333" stroke-width="1.0" />
<text x="546.25" y="513.90" font-size="7.3" font-weight="bold" fill="#1a1a1a" stroke="#1a1a1a" stroke-width="0.1" >2.0</text>
<rect x="562.60" y="623.00" width="11.80" height="0.90" fill="#fff" stroke="#151515" stroke-width="1.3"/>
<circle cx="563.25" cy="622.60" r="1.3" fill="#111"/>
<circle cx="566.75" cy="622.60" r="1.3" fill="#111"/>
<circle cx="570.25" cy="622.60" r="1.3" fill="#111"/>
<circle cx="573.75" cy="622.60" r="1.3" fill="#111"/>
<line x1="568.50" y1="623.90" x2="568.50" y2="626.70" stroke="#333" stroke-width="0.9" />
<rect x="581.60" y="623.00" width="11.80" height="0.90" fill="#fff" stroke="#151515" stroke-width="1.3"/>
<circle cx="582.25" cy="622.60" r="1.3" fill="#111"/>
<circle cx="585.75" cy="622.60" r="1.3" fill="#111"/>
<circle cx="589.25" cy="622.60" r="1.3" fill="#111"/>
<circle cx="592.75" cy="622.60" r="1.3" fill="#111"/>
<line x1="587.50" y1="623.90" x2="587.50" y2="626.70" stroke="#333" stroke-width="0.9" />
<rect x="600.60" y="623.00" width="11.80" height="0.90" fill="#fff" stroke="#151515" stroke-width="1.3"/>
<line x1="606.50" y1="620.50" x2="606.50" y2="623.00" stroke="#444" stroke-width="0.9" />
<line x1="603.40" y1="620.50" x2="609.60" y2="620.50" stroke="#444" stroke-width="0.95" />
<circle cx="601.25" cy="622.60" r="1.3" fill="#111"/>
<circle cx="604.75" cy="622.60" r="1.3" fill="#111"/>
<circle cx="608.25" cy="622.60" r="1.3" fill="#111"/>
<circle cx="611.00" cy="620.00" r="1.3" fill="#111"/>
<line x1="606.50" y1="623.90" x2="606.50" y2="626.70" stroke="#333" stroke-width="0.9" />
<rect x="619.60" y="623.00" width="11.80" height="0.90" fill="#fff" stroke="#151515" stroke-width="1.3"/>
<circle cx="620.25" cy="622.60" r="1.3" fill="#111"/>
<circle cx="623.75" cy="622.60" r="1.3" fill="#111"/>
<circle cx="627.25" cy="622.60" r="1.3" fill="#111"/>
<circle cx="630.75" cy="622.60" r="1.3" fill="#111"/>
<line x1="625.50" y1="623.90" x2="625.50" y2="626.70" stroke="#333" stroke-width="0.9" />
<rect x="638.60" y="623.00" width="11.80" height="0.90" fill="#fff" stroke="#151515" stroke-width="1.3"/>
<circle cx="639.25" cy="622.60" r="1.3" fill="#111"/>
<circle cx="642.75" cy="622.60" r="1.3" fill="#111"/>
<circle cx="646.25" cy="622.60" r="1.3" fill="#111"/>
<circle cx="649.75" cy="622.60" r="1.3" fill="#111"/>
<line x1="644.50" y1="623.90" x2="644.50" y2="626.70" stroke="#333" stroke-width="0.9" />
<rect x="657.60" y="569.40" width="11.80" height="54.50" fill="#ff2800" stroke="#151515" stroke-width="1.3"/>
<line x1="663.50" y1="555.40" x2="663.50" y2="581.70" stroke="#444" stroke-width="0.9" />
<line x1="660.40" y1="555.40" x2="666.60" y2="555.40" stroke="#444" stroke-width="0.95" />
<line x1="660.40" y1="581.70" x2="666.60" y2="581.70" stroke="#444" stroke-width="0.95" />
<circle cx="663.50" cy="548.90" r="1.4" fill="#111"/>
<circle cx="661.10" cy="572.50" r="1.4" fill="#111"/>
<circle cx="666.10" cy="572.50" r="1.4" fill="#111"/>
<circle cx="663.50" cy="579.10" r="1.4" fill="#111"/>
<line x1="663.50" y1="623.90" x2="663.50" y2="626.70" stroke="#333" stroke-width="0.9" />
<line x1="558.80" y1="623.90" x2="673.00" y2="623.90" stroke="#333" stroke-width="1.3" />
<text x="602.19" y="509.60" font-size="12" fill="#111" stroke="#111" stroke-width="0.25" >IgG3</text>
<polygon points="657.17,539.90 657.88,541.59 659.70,541.73 658.31,542.92 658.73,544.69 657.17,543.74 655.62,544.69 656.04,542.92 654.65,541.73 656.47,541.59" fill="#111"/>
<polygon points="662.32,539.90 663.03,541.59 664.85,541.73 663.46,542.92 663.88,544.69 662.32,543.74 660.77,544.69 661.19,542.92 659.80,541.73 661.62,541.59" fill="#111"/>
<polygon points="667.47,539.90 668.18,541.59 670.00,541.73 668.61,542.92 669.03,544.69 667.47,543.74 665.92,544.69 666.34,542.92 664.95,541.73 666.77,541.59" fill="#111"/>
<polygon points="672.62,539.90 673.33,541.59 675.15,541.73 673.76,542.92 674.18,544.69 672.62,543.74 671.07,544.69 671.49,542.92 670.10,541.73 671.92,541.59" fill="#111"/>
<text x="606.62" y="603.50" font-size="10.5" fill="#111" stroke="#111" stroke-width="0.25" textLength="15.38" lengthAdjust="spacingAndGlyphs" >ND</text>
<line x1="581.20" y1="609.30" x2="646.90" y2="609.30" stroke="#444" stroke-width="1.0" />
<text transform="translate(525.20,580.40) rotate(-90) scale(0.955,1)" font-size="9.9" font-weight="bold" fill="#111" stroke="#111" stroke-width="0.12">OD<tspan font-size="7.6" dy="3.0">405</tspan></text>
<line x1="514.60" y1="630.60" x2="672.70" y2="630.60" stroke="#2a2a2a" stroke-width="1.25" />
<line x1="514.60" y1="652.40" x2="672.70" y2="652.40" stroke="#2a2a2a" stroke-width="1.25" />
<line x1="514.60" y1="672.70" x2="672.70" y2="672.70" stroke="#2a2a2a" stroke-width="1.25" />
<line x1="514.60" y1="693.10" x2="672.70" y2="693.10" stroke="#2a2a2a" stroke-width="1.25" />
<line x1="558.50" y1="630.60" x2="558.50" y2="693.10" stroke="#1a1a1a" stroke-width="1.25" />
<text x="514.61" y="644.20" font-size="8" fill="#222" stroke="#222" stroke-width="0.25" >Empty MVs</text>
<path d="M570.10,638.30H573.50M571.80,636.35V640.25" stroke="#222" stroke-width="0.95" fill="none"/>
<text x="569.47" y="648.60" font-size="8" fill="#222" stroke="#222" stroke-width="0.25" >1</text>
<path d="M588.80,638.30H592.20M590.50,636.35V640.25" stroke="#222" stroke-width="0.95" fill="none"/>
<text x="588.17" y="648.60" font-size="8" fill="#222" stroke="#222" stroke-width="0.25" >1</text>
<path d="M605.40,638.30H608.80M607.10,636.35V640.25" stroke="#222" stroke-width="0.95" fill="none"/>
<text x="604.77" y="648.60" font-size="8" fill="#222" stroke="#222" stroke-width="0.25" >1</text>
<path d="M623.80,638.30H627.20M625.50,636.35V640.25" stroke="#222" stroke-width="0.95" fill="none"/>
<text x="623.17" y="648.60" font-size="8" fill="#222" stroke="#222" stroke-width="0.25" >1</text>
<path d="M640.60,638.30H644.00M642.30,636.35V640.25" stroke="#222" stroke-width="0.95" fill="none"/>
<text x="639.97" y="648.60" font-size="8" fill="#222" stroke="#222" stroke-width="0.25" >1</text>
<line x1="661.55" y1="641.50" x2="664.05" y2="641.50" stroke="#333" stroke-width="1.0" />
<text x="526.87" y="660.40" font-size="8" fill="#222" stroke="#222" stroke-width="0.25" >Free</text>
<text x="522.49" y="670.60" font-size="8" fill="#222" stroke="#222" stroke-width="0.25" >CPS14</text>
<line x1="570.55" y1="662.60" x2="573.05" y2="662.60" stroke="#333" stroke-width="1.0" />
<path d="M588.80,657.70H592.20M590.50,655.75V659.65" stroke="#222" stroke-width="0.95" fill="none"/>
<text x="582.75" y="669.70" font-size="8" fill="#222" stroke="#222" stroke-width="0.25" >0.01</text>
<path d="M603.17,657.70H606.58M604.88,655.75V659.65" stroke="#222" stroke-width="0.95" fill="none"/>
<path d="M607.62,657.70H611.03M609.33,655.75V659.65" stroke="#222" stroke-width="0.95" fill="none"/>
<text x="601.57" y="669.70" font-size="8" fill="#222" stroke="#222" stroke-width="0.25" >0.1</text>
<path d="M619.35,657.70H622.75M621.05,655.75V659.65" stroke="#222" stroke-width="0.95" fill="none"/>
<path d="M623.80,657.70H627.20M625.50,655.75V659.65" stroke="#222" stroke-width="0.95" fill="none"/>
<path d="M628.25,657.70H631.65M629.95,655.75V659.65" stroke="#222" stroke-width="0.95" fill="none"/>
<text x="623.17" y="669.70" font-size="8" fill="#222" stroke="#222" stroke-width="0.25" >1</text>
<path d="M636.72,657.70H640.12M638.42,655.75V659.65" stroke="#222" stroke-width="0.95" fill="none"/>
<path d="M641.17,657.70H644.57M642.87,655.75V659.65" stroke="#222" stroke-width="0.95" fill="none"/>
<path d="M645.62,657.70H649.02M647.32,655.75V659.65" stroke="#222" stroke-width="0.95" fill="none"/>
<path d="M650.07,657.70H653.47M651.77,655.75V659.65" stroke="#222" stroke-width="0.95" fill="none"/>
<text x="640.51" y="669.70" font-size="8" fill="#222" stroke="#222" stroke-width="0.25" >10</text>
<line x1="661.55" y1="661.00" x2="664.05" y2="661.00" stroke="#333" stroke-width="1.0" />
<text x="521.34" y="680.70" font-size="8" fill="#222" stroke="#222" stroke-width="0.25">CPS14<tspan font-size="5.2" dy="-2.8">+</tspan></text>
<text x="518.39" y="690.90" font-size="8" fill="#222" stroke="#222" stroke-width="0.25" >EcN MVs</text>
<line x1="570.55" y1="683.80" x2="573.05" y2="683.80" stroke="#333" stroke-width="1.0" />
<line x1="589.25" y1="683.80" x2="591.75" y2="683.80" stroke="#333" stroke-width="1.0" />
<line x1="605.85" y1="683.80" x2="608.35" y2="683.80" stroke="#333" stroke-width="1.0" />
<line x1="624.25" y1="683.80" x2="626.75" y2="683.80" stroke="#333" stroke-width="1.0" />
<line x1="641.05" y1="683.80" x2="643.55" y2="683.80" stroke="#333" stroke-width="1.0" />
<path d="M661.60,678.00H665.00M663.30,676.05V679.95" stroke="#222" stroke-width="0.95" fill="none"/>
<text x="660.97" y="688.90" font-size="8" fill="#222" stroke="#222" stroke-width="0.25" >1</text>
<line x1="45.90" y1="757.50" x2="45.90" y2="871.50" stroke="#333" stroke-width="1.2" />
<line x1="43.70" y1="868.90" x2="45.90" y2="868.90" stroke="#333" stroke-width="1.0" />
<text x="32.75" y="871.50" font-size="7.3" font-weight="bold" fill="#1a1a1a" stroke="#1a1a1a" stroke-width="0.1" >0.0</text>
<line x1="43.70" y1="841.17" x2="45.90" y2="841.17" stroke="#333" stroke-width="1.0" />
<text x="32.65" y="843.77" font-size="7.3" font-weight="bold" fill="#1a1a1a" stroke="#1a1a1a" stroke-width="0.1" >0.1</text>
<line x1="43.70" y1="813.45" x2="45.90" y2="813.45" stroke="#333" stroke-width="1.0" />
<text x="32.73" y="816.05" font-size="7.3" font-weight="bold" fill="#1a1a1a" stroke="#1a1a1a" stroke-width="0.1" >0.2</text>
<line x1="43.70" y1="785.73" x2="45.90" y2="785.73" stroke="#333" stroke-width="1.0" />
<text x="32.71" y="788.33" font-size="7.3" font-weight="bold" fill="#1a1a1a" stroke="#1a1a1a" stroke-width="0.1" >0.3</text>
<line x1="43.70" y1="758.00" x2="45.90" y2="758.00" stroke="#333" stroke-width="1.0" />
<text x="32.49" y="760.60" font-size="7.3" font-weight="bold" fill="#1a1a1a" stroke="#1a1a1a" stroke-width="0.1" >0.4</text>
<line x1="44.10" y1="868.90" x2="159.50" y2="868.90" stroke="#1a1a1a" stroke-width="1.2" />
<circle cx="50.55" cy="868.00" r="1.1" fill="#111"/>
<circle cx="54.05" cy="868.00" r="1.1" fill="#111"/>
<circle cx="57.55" cy="868.00" r="1.1" fill="#111"/>
<circle cx="61.05" cy="868.00" r="1.1" fill="#111"/>
<line x1="55.80" y1="870.90" x2="55.80" y2="873.70" stroke="#333" stroke-width="0.9" />
<circle cx="69.55" cy="868.00" r="1.1" fill="#111"/>
<circle cx="73.05" cy="868.00" r="1.1" fill="#111"/>
<circle cx="76.55" cy="868.00" r="1.1" fill="#111"/>
<circle cx="80.05" cy="868.00" r="1.1" fill="#111"/>
<line x1="74.80" y1="870.90" x2="74.80" y2="873.70" stroke="#333" stroke-width="0.9" />
<circle cx="88.55" cy="868.00" r="1.1" fill="#111"/>
<circle cx="92.05" cy="868.00" r="1.1" fill="#111"/>
<circle cx="95.55" cy="868.00" r="1.1" fill="#111"/>
<circle cx="99.05" cy="868.00" r="1.1" fill="#111"/>
<line x1="93.80" y1="870.90" x2="93.80" y2="873.70" stroke="#333" stroke-width="0.9" />
<circle cx="107.55" cy="868.00" r="1.1" fill="#111"/>
<circle cx="111.05" cy="868.00" r="1.1" fill="#111"/>
<circle cx="114.55" cy="868.00" r="1.1" fill="#111"/>
<circle cx="118.05" cy="868.00" r="1.1" fill="#111"/>
<line x1="112.80" y1="870.90" x2="112.80" y2="873.70" stroke="#333" stroke-width="0.9" />
<circle cx="126.55" cy="868.00" r="1.1" fill="#111"/>
<circle cx="130.05" cy="868.00" r="1.1" fill="#111"/>
<circle cx="133.55" cy="868.00" r="1.1" fill="#111"/>
<circle cx="137.05" cy="868.00" r="1.1" fill="#111"/>
<line x1="131.80" y1="870.90" x2="131.80" y2="873.70" stroke="#333" stroke-width="0.9" />
<circle cx="145.55" cy="868.00" r="1.1" fill="#111"/>
<circle cx="149.05" cy="868.00" r="1.1" fill="#111"/>
<circle cx="152.55" cy="868.00" r="1.1" fill="#111"/>
<circle cx="156.05" cy="868.00" r="1.1" fill="#111"/>
<line x1="150.80" y1="870.90" x2="150.80" y2="873.70" stroke="#333" stroke-width="0.9" />
<line x1="45.30" y1="870.90" x2="159.50" y2="870.90" stroke="#666" stroke-width="1.3" />
<text x="94.32" y="757.60" font-size="12" fill="#111" stroke="#111" stroke-width="0.25" >IgG</text>
<text x="102.79" y="851.50" font-size="10.5" fill="#111" stroke="#111" stroke-width="0.25" textLength="15.93" lengthAdjust="spacingAndGlyphs" >ND</text>
<line x1="72.00" y1="856.00" x2="153.90" y2="856.00" stroke="#444" stroke-width="1.0" />
<text transform="translate(13.10,827.40) rotate(-90) scale(0.955,1)" font-size="9.9" font-weight="bold" fill="#111" stroke="#111" stroke-width="0.12">OD<tspan font-size="7.6" dy="3.0">405</tspan></text>
<line x1="2.50" y1="877.40" x2="158.80" y2="877.40" stroke="#2a2a2a" stroke-width="1.25" />
<line x1="2.50" y1="899.20" x2="158.80" y2="899.20" stroke="#2a2a2a" stroke-width="1.25" />
<line x1="2.50" y1="919.70" x2="158.80" y2="919.70" stroke="#2a2a2a" stroke-width="1.25" />
<line x1="2.50" y1="940.10" x2="158.80" y2="940.10" stroke="#2a2a2a" stroke-width="1.25" />
<line x1="45.40" y1="877.40" x2="45.40" y2="940.10" stroke="#1a1a1a" stroke-width="1.25" />
<text x="5.79" y="886.70" font-size="8" fill="#222" stroke="#222" stroke-width="0.25" >EcN MVs</text>
<text x="2.32" y="896.90" font-size="8" fill="#222" stroke="#222" stroke-width="0.25" >vector cont.</text>
<path d="M57.60,884.40H61.00M59.30,882.45V886.35" stroke="#222" stroke-width="0.95" fill="none"/>
<text x="56.97" y="895.40" font-size="8" fill="#222" stroke="#222" stroke-width="0.25" >1</text>
<path d="M75.20,884.40H78.60M76.90,882.45V886.35" stroke="#222" stroke-width="0.95" fill="none"/>
<text x="74.57" y="895.40" font-size="8" fill="#222" stroke="#222" stroke-width="0.25" >1</text>
<path d="M92.60,884.40H96.00M94.30,882.45V886.35" stroke="#222" stroke-width="0.95" fill="none"/>
<text x="91.97" y="895.40" font-size="8" fill="#222" stroke="#222" stroke-width="0.25" >1</text>
<path d="M110.50,884.40H113.90M112.20,882.45V886.35" stroke="#222" stroke-width="0.95" fill="none"/>
<text x="109.87" y="895.40" font-size="8" fill="#222" stroke="#222" stroke-width="0.25" >1</text>
<path d="M127.90,884.40H131.30M129.60,882.45V886.35" stroke="#222" stroke-width="0.95" fill="none"/>
<text x="127.27" y="895.40" font-size="8" fill="#222" stroke="#222" stroke-width="0.25" >1</text>
<line x1="148.45" y1="888.30" x2="150.95" y2="888.30" stroke="#333" stroke-width="1.0" />
<text x="14.27" y="907.20" font-size="8" fill="#222" stroke="#222" stroke-width="0.25" >Free</text>
<text x="9.89" y="917.40" font-size="8" fill="#222" stroke="#222" stroke-width="0.25" >CPS14</text>
<line x1="58.05" y1="909.40" x2="60.55" y2="909.40" stroke="#333" stroke-width="1.0" />
<path d="M75.20,904.50H78.60M76.90,902.55V906.45" stroke="#222" stroke-width="0.95" fill="none"/>
<text x="69.15" y="916.50" font-size="8" fill="#222" stroke="#222" stroke-width="0.25" >0.01</text>
<path d="M90.38,904.50H93.78M92.08,902.55V906.45" stroke="#222" stroke-width="0.95" fill="none"/>
<path d="M94.82,904.50H98.22M96.52,902.55V906.45" stroke="#222" stroke-width="0.95" fill="none"/>
<text x="88.77" y="916.50" font-size="8" fill="#222" stroke="#222" stroke-width="0.25" >0.1</text>
<path d="M106.05,904.50H109.45M107.75,902.55V906.45" stroke="#222" stroke-width="0.95" fill="none"/>
<path d="M110.50,904.50H113.90M112.20,902.55V906.45" stroke="#222" stroke-width="0.95" fill="none"/>
<path d="M114.95,904.50H118.35M116.65,902.55V906.45" stroke="#222" stroke-width="0.95" fill="none"/>
<text x="109.87" y="916.50" font-size="8" fill="#222" stroke="#222" stroke-width="0.25" >1</text>
<path d="M124.03,904.50H127.43M125.73,902.55V906.45" stroke="#222" stroke-width="0.95" fill="none"/>
<path d="M128.48,904.50H131.88M130.18,902.55V906.45" stroke="#222" stroke-width="0.95" fill="none"/>
<path d="M132.93,904.50H136.32M134.62,902.55V906.45" stroke="#222" stroke-width="0.95" fill="none"/>
<path d="M137.38,904.50H140.78M139.08,902.55V906.45" stroke="#222" stroke-width="0.95" fill="none"/>
<text x="127.81" y="916.50" font-size="8" fill="#222" stroke="#222" stroke-width="0.25" >10</text>
<line x1="148.45" y1="907.80" x2="150.95" y2="907.80" stroke="#333" stroke-width="1.0" />
<text x="8.74" y="927.70" font-size="8" fill="#222" stroke="#222" stroke-width="0.25">CPS14<tspan font-size="5.2" dy="-2.8">+</tspan></text>
<text x="5.79" y="937.90" font-size="8" fill="#222" stroke="#222" stroke-width="0.25" >EcN MVs</text>
<line x1="58.05" y1="930.80" x2="60.55" y2="930.80" stroke="#333" stroke-width="1.0" />
<line x1="75.65" y1="930.80" x2="78.15" y2="930.80" stroke="#333" stroke-width="1.0" />
<line x1="93.05" y1="930.80" x2="95.55" y2="930.80" stroke="#333" stroke-width="1.0" />
<line x1="110.95" y1="930.80" x2="113.45" y2="930.80" stroke="#333" stroke-width="1.0" />
<line x1="128.35" y1="930.80" x2="130.85" y2="930.80" stroke="#333" stroke-width="1.0" />
<path d="M149.00,925.00H152.40M150.70,923.05V926.95" stroke="#222" stroke-width="0.95" fill="none"/>
<text x="148.37" y="935.90" font-size="8" fill="#222" stroke="#222" stroke-width="0.25" >1</text>
<line x1="215.90" y1="758.70" x2="215.90" y2="872.20" stroke="#333" stroke-width="1.2" />
<line x1="213.70" y1="869.60" x2="215.90" y2="869.60" stroke="#333" stroke-width="1.0" />
<text x="202.75" y="872.20" font-size="7.3" font-weight="bold" fill="#1a1a1a" stroke="#1a1a1a" stroke-width="0.1" >0.0</text>
<line x1="213.70" y1="842.00" x2="215.90" y2="842.00" stroke="#333" stroke-width="1.0" />
<text x="202.65" y="844.60" font-size="7.3" font-weight="bold" fill="#1a1a1a" stroke="#1a1a1a" stroke-width="0.1" >0.1</text>
<line x1="213.70" y1="814.40" x2="215.90" y2="814.40" stroke="#333" stroke-width="1.0" />
<text x="202.73" y="817.00" font-size="7.3" font-weight="bold" fill="#1a1a1a" stroke="#1a1a1a" stroke-width="0.1" >0.2</text>
<line x1="213.70" y1="786.80" x2="215.90" y2="786.80" stroke="#333" stroke-width="1.0" />
<text x="202.71" y="789.40" font-size="7.3" font-weight="bold" fill="#1a1a1a" stroke="#1a1a1a" stroke-width="0.1" >0.3</text>
<line x1="213.70" y1="759.20" x2="215.90" y2="759.20" stroke="#333" stroke-width="1.0" />
<text x="202.49" y="761.80" font-size="7.3" font-weight="bold" fill="#1a1a1a" stroke="#1a1a1a" stroke-width="0.1" >0.4</text>
<line x1="214.10" y1="869.60" x2="329.50" y2="869.60" stroke="#1a1a1a" stroke-width="1.2" />
<circle cx="220.55" cy="868.60" r="1.1" fill="#111"/>
<circle cx="224.05" cy="868.60" r="1.1" fill="#111"/>
<circle cx="227.55" cy="868.60" r="1.1" fill="#111"/>
<circle cx="231.05" cy="868.60" r="1.1" fill="#111"/>
<line x1="225.80" y1="871.60" x2="225.80" y2="874.40" stroke="#333" stroke-width="0.9" />
<circle cx="239.55" cy="868.60" r="1.1" fill="#111"/>
<circle cx="243.05" cy="868.60" r="1.1" fill="#111"/>
<circle cx="246.55" cy="868.60" r="1.1" fill="#111"/>
<circle cx="250.05" cy="868.60" r="1.1" fill="#111"/>
<line x1="244.80" y1="871.60" x2="244.80" y2="874.40" stroke="#333" stroke-width="0.9" />
<circle cx="258.55" cy="868.60" r="1.1" fill="#111"/>
<circle cx="262.05" cy="868.60" r="1.1" fill="#111"/>
<circle cx="265.55" cy="868.60" r="1.1" fill="#111"/>
<circle cx="269.05" cy="868.60" r="1.1" fill="#111"/>
<line x1="263.80" y1="871.60" x2="263.80" y2="874.40" stroke="#333" stroke-width="0.9" />
<circle cx="277.55" cy="868.60" r="1.1" fill="#111"/>
<circle cx="281.05" cy="868.60" r="1.1" fill="#111"/>
<circle cx="284.55" cy="868.60" r="1.1" fill="#111"/>
<circle cx="288.05" cy="868.60" r="1.1" fill="#111"/>
<line x1="282.80" y1="871.60" x2="282.80" y2="874.40" stroke="#333" stroke-width="0.9" />
<line x1="301.80" y1="866.50" x2="301.80" y2="869.60" stroke="#444" stroke-width="0.9" />
<line x1="298.70" y1="866.50" x2="304.90" y2="866.50" stroke="#444" stroke-width="0.95" />
<circle cx="296.55" cy="868.60" r="1.1" fill="#111"/>
<circle cx="300.05" cy="866.00" r="1.3" fill="#111"/>
<circle cx="303.55" cy="868.60" r="1.1" fill="#111"/>
<circle cx="307.05" cy="868.60" r="1.1" fill="#111"/>
<line x1="301.80" y1="871.60" x2="301.80" y2="874.40" stroke="#333" stroke-width="0.9" />
<line x1="320.80" y1="866.50" x2="320.80" y2="869.60" stroke="#444" stroke-width="0.9" />
<line x1="317.70" y1="866.50" x2="323.90" y2="866.50" stroke="#444" stroke-width="0.95" />
<circle cx="315.55" cy="868.60" r="1.1" fill="#111"/>
<circle cx="319.05" cy="866.00" r="1.3" fill="#111"/>
<circle cx="322.55" cy="868.60" r="1.1" fill="#111"/>
<circle cx="326.05" cy="868.60" r="1.1" fill="#111"/>
<line x1="320.80" y1="871.60" x2="320.80" y2="874.40" stroke="#333" stroke-width="0.9" />
<line x1="215.30" y1="871.60" x2="329.50" y2="871.60" stroke="#666" stroke-width="1.3" />
<text x="267.55" y="757.70" font-size="12" fill="#111" stroke="#111" stroke-width="0.25" >IgA</text>
<text x="269.35" y="848.30" font-size="10.5" fill="#111" stroke="#111" stroke-width="0.25" textLength="14.94" lengthAdjust="spacingAndGlyphs" >ND</text>
<line x1="238.30" y1="852.90" x2="320.10" y2="852.90" stroke="#444" stroke-width="1.0" />
<text transform="translate(181.40,828.20) rotate(-90) scale(0.955,1)" font-size="9.9" font-weight="bold" fill="#111" stroke="#111" stroke-width="0.12">OD<tspan font-size="7.6" dy="3.0">405</tspan></text>
<line x1="171.30" y1="877.40" x2="328.80" y2="877.40" stroke="#2a2a2a" stroke-width="1.25" />
<line x1="171.30" y1="899.20" x2="328.80" y2="899.20" stroke="#2a2a2a" stroke-width="1.25" />
<line x1="171.30" y1="919.70" x2="328.80" y2="919.70" stroke="#2a2a2a" stroke-width="1.25" />
<line x1="171.30" y1="940.10" x2="328.80" y2="940.10" stroke="#2a2a2a" stroke-width="1.25" />
<line x1="215.40" y1="877.40" x2="215.40" y2="940.10" stroke="#1a1a1a" stroke-width="1.25" />
<text x="175.19" y="886.70" font-size="8" fill="#222" stroke="#222" stroke-width="0.25" >EcN MVs</text>
<text x="171.72" y="896.90" font-size="8" fill="#222" stroke="#222" stroke-width="0.25" >vector cont.</text>
<path d="M227.20,884.40H230.60M228.90,882.45V886.35" stroke="#222" stroke-width="0.95" fill="none"/>
<text x="226.57" y="895.40" font-size="8" fill="#222" stroke="#222" stroke-width="0.25" >1</text>
<path d="M244.70,884.40H248.10M246.40,882.45V886.35" stroke="#222" stroke-width="0.95" fill="none"/>
<text x="244.07" y="895.40" font-size="8" fill="#222" stroke="#222" stroke-width="0.25" >1</text>
<path d="M262.30,884.40H265.70M264.00,882.45V886.35" stroke="#222" stroke-width="0.95" fill="none"/>
<text x="261.67" y="895.40" font-size="8" fill="#222" stroke="#222" stroke-width="0.25" >1</text>
<path d="M280.30,884.40H283.70M282.00,882.45V886.35" stroke="#222" stroke-width="0.95" fill="none"/>
<text x="279.67" y="895.40" font-size="8" fill="#222" stroke="#222" stroke-width="0.25" >1</text>
<path d="M297.90,884.40H301.30M299.60,882.45V886.35" stroke="#222" stroke-width="0.95" fill="none"/>
<text x="297.27" y="895.40" font-size="8" fill="#222" stroke="#222" stroke-width="0.25" >1</text>
<line x1="315.35" y1="888.30" x2="317.85" y2="888.30" stroke="#333" stroke-width="1.0" />
<text x="183.67" y="907.20" font-size="8" fill="#222" stroke="#222" stroke-width="0.25" >Free</text>
<text x="179.29" y="917.40" font-size="8" fill="#222" stroke="#222" stroke-width="0.25" >CPS14</text>
<line x1="227.65" y1="909.40" x2="230.15" y2="909.40" stroke="#333" stroke-width="1.0" />
<path d="M244.70,904.50H248.10M246.40,902.55V906.45" stroke="#222" stroke-width="0.95" fill="none"/>
<text x="238.65" y="916.50" font-size="8" fill="#222" stroke="#222" stroke-width="0.25" >0.01</text>
<path d="M260.07,904.50H263.47M261.77,902.55V906.45" stroke="#222" stroke-width="0.95" fill="none"/>
<path d="M264.53,904.50H267.93M266.23,902.55V906.45" stroke="#222" stroke-width="0.95" fill="none"/>
<text x="258.47" y="916.50" font-size="8" fill="#222" stroke="#222" stroke-width="0.25" >0.1</text>
<path d="M275.85,904.50H279.25M277.55,902.55V906.45" stroke="#222" stroke-width="0.95" fill="none"/>
<path d="M280.30,904.50H283.70M282.00,902.55V906.45" stroke="#222" stroke-width="0.95" fill="none"/>
<path d="M284.75,904.50H288.15M286.45,902.55V906.45" stroke="#222" stroke-width="0.95" fill="none"/>
<text x="279.67" y="916.50" font-size="8" fill="#222" stroke="#222" stroke-width="0.25" >1</text>
<path d="M294.03,904.50H297.43M295.73,902.55V906.45" stroke="#222" stroke-width="0.95" fill="none"/>
<path d="M298.48,904.50H301.88M300.18,902.55V906.45" stroke="#222" stroke-width="0.95" fill="none"/>
<path d="M302.93,904.50H306.33M304.63,902.55V906.45" stroke="#222" stroke-width="0.95" fill="none"/>
<path d="M307.38,904.50H310.78M309.08,902.55V906.45" stroke="#222" stroke-width="0.95" fill="none"/>
<text x="297.81" y="916.50" font-size="8" fill="#222" stroke="#222" stroke-width="0.25" >10</text>
<line x1="315.35" y1="907.80" x2="317.85" y2="907.80" stroke="#333" stroke-width="1.0" />
<text x="178.14" y="927.70" font-size="8" fill="#222" stroke="#222" stroke-width="0.25">CPS14<tspan font-size="5.2" dy="-2.8">+</tspan></text>
<text x="175.19" y="937.90" font-size="8" fill="#222" stroke="#222" stroke-width="0.25" >EcN MVs</text>
<line x1="227.65" y1="930.80" x2="230.15" y2="930.80" stroke="#333" stroke-width="1.0" />
<line x1="245.15" y1="930.80" x2="247.65" y2="930.80" stroke="#333" stroke-width="1.0" />
<line x1="262.75" y1="930.80" x2="265.25" y2="930.80" stroke="#333" stroke-width="1.0" />
<line x1="280.75" y1="930.80" x2="283.25" y2="930.80" stroke="#333" stroke-width="1.0" />
<line x1="298.35" y1="930.80" x2="300.85" y2="930.80" stroke="#333" stroke-width="1.0" />
<path d="M325.20,925.00H328.60M326.90,923.05V926.95" stroke="#222" stroke-width="0.95" fill="none"/>
<text x="324.57" y="935.90" font-size="8" fill="#222" stroke="#222" stroke-width="0.25" >1</text>
<line x1="389.40" y1="758.40" x2="389.40" y2="872.20" stroke="#333" stroke-width="1.2" />
<line x1="387.20" y1="869.60" x2="389.40" y2="869.60" stroke="#333" stroke-width="1.0" />
<text x="376.25" y="872.20" font-size="7.3" font-weight="bold" fill="#1a1a1a" stroke="#1a1a1a" stroke-width="0.1" >0.0</text>
<line x1="387.20" y1="841.92" x2="389.40" y2="841.92" stroke="#333" stroke-width="1.0" />
<text x="376.15" y="844.52" font-size="7.3" font-weight="bold" fill="#1a1a1a" stroke="#1a1a1a" stroke-width="0.1" >0.1</text>
<line x1="387.20" y1="814.25" x2="389.40" y2="814.25" stroke="#333" stroke-width="1.0" />
<text x="376.23" y="816.85" font-size="7.3" font-weight="bold" fill="#1a1a1a" stroke="#1a1a1a" stroke-width="0.1" >0.2</text>
<line x1="387.20" y1="786.58" x2="389.40" y2="786.58" stroke="#333" stroke-width="1.0" />
<text x="376.21" y="789.18" font-size="7.3" font-weight="bold" fill="#1a1a1a" stroke="#1a1a1a" stroke-width="0.1" >0.3</text>
<line x1="387.20" y1="758.90" x2="389.40" y2="758.90" stroke="#333" stroke-width="1.0" />
<text x="375.99" y="761.50" font-size="7.3" font-weight="bold" fill="#1a1a1a" stroke="#1a1a1a" stroke-width="0.1" >0.4</text>
<line x1="387.60" y1="869.60" x2="503.00" y2="869.60" stroke="#1a1a1a" stroke-width="1.2" />
<rect x="393.40" y="868.30" width="11.80" height="1.30" fill="#fff" stroke="#151515" stroke-width="1.3"/>
<circle cx="394.05" cy="868.00" r="1.1" fill="#111"/>
<circle cx="397.55" cy="868.00" r="1.1" fill="#111"/>
<circle cx="401.05" cy="868.00" r="1.1" fill="#111"/>
<circle cx="404.55" cy="868.00" r="1.1" fill="#111"/>
<line x1="399.30" y1="871.60" x2="399.30" y2="874.40" stroke="#333" stroke-width="0.9" />
<rect x="412.40" y="868.30" width="11.80" height="1.30" fill="#fff" stroke="#151515" stroke-width="1.3"/>
<line x1="418.30" y1="866.00" x2="418.30" y2="868.30" stroke="#444" stroke-width="0.9" />
<line x1="415.20" y1="866.00" x2="421.40" y2="866.00" stroke="#444" stroke-width="0.95" />
<circle cx="413.05" cy="868.00" r="1.1" fill="#111"/>
<circle cx="416.55" cy="865.20" r="1.25" fill="#111"/>
<circle cx="420.05" cy="868.00" r="1.1" fill="#111"/>
<circle cx="423.55" cy="868.00" r="1.1" fill="#111"/>
<line x1="418.30" y1="871.60" x2="418.30" y2="874.40" stroke="#333" stroke-width="0.9" />
<circle cx="432.05" cy="870.00" r="1.1" fill="#111"/>
<circle cx="435.55" cy="870.00" r="1.1" fill="#111"/>
<circle cx="439.05" cy="870.00" r="1.1" fill="#111"/>
<circle cx="442.55" cy="870.00" r="1.1" fill="#111"/>
<line x1="437.30" y1="871.60" x2="437.30" y2="874.40" stroke="#333" stroke-width="0.9" />
<rect x="450.40" y="868.30" width="11.80" height="1.30" fill="#fff" stroke="#151515" stroke-width="1.3"/>
<circle cx="451.05" cy="868.00" r="1.1" fill="#111"/>
<circle cx="454.55" cy="868.00" r="1.1" fill="#111"/>
<circle cx="458.05" cy="868.00" r="1.1" fill="#111"/>
<circle cx="461.55" cy="868.00" r="1.1" fill="#111"/>
<line x1="456.30" y1="871.60" x2="456.30" y2="874.40" stroke="#333" stroke-width="0.9" />
<rect x="469.40" y="868.30" width="11.80" height="1.30" fill="#fff" stroke="#151515" stroke-width="1.3"/>
<circle cx="470.05" cy="868.00" r="1.1" fill="#111"/>
<circle cx="473.55" cy="868.00" r="1.1" fill="#111"/>
<circle cx="477.05" cy="868.00" r="1.1" fill="#111"/>
<circle cx="480.55" cy="868.00" r="1.1" fill="#111"/>
<line x1="475.30" y1="871.60" x2="475.30" y2="874.40" stroke="#333" stroke-width="0.9" />
<rect x="488.40" y="819.60" width="11.80" height="50.00" fill="#ff2800" stroke="#151515" stroke-width="1.3"/>
<line x1="494.30" y1="794.50" x2="494.30" y2="845.00" stroke="#444" stroke-width="0.9" />
<line x1="491.20" y1="794.50" x2="497.40" y2="794.50" stroke="#444" stroke-width="0.95" />
<line x1="491.20" y1="845.00" x2="497.40" y2="845.00" stroke="#444" stroke-width="0.95" />
<circle cx="494.30" cy="786.40" r="1.4" fill="#111"/>
<circle cx="494.30" cy="817.50" r="1.4" fill="#111"/>
<circle cx="494.30" cy="827.70" r="1.4" fill="#111"/>
<circle cx="494.30" cy="845.30" r="1.4" fill="#111"/>
<line x1="494.30" y1="871.60" x2="494.30" y2="874.40" stroke="#333" stroke-width="0.9" />
<line x1="388.80" y1="871.60" x2="503.00" y2="871.60" stroke="#666" stroke-width="1.3" />
<text x="437.22" y="758.90" font-size="12" fill="#111" stroke="#111" stroke-width="0.25" >IgG</text>
<polygon points="487.47,775.90 488.18,777.59 490.00,777.73 488.61,778.92 489.03,780.69 487.47,779.74 485.92,780.69 486.34,778.92 484.95,777.73 486.77,777.59" fill="#111"/>
<polygon points="492.62,775.90 493.33,777.59 495.15,777.73 493.76,778.92 494.18,780.69 492.62,779.74 491.07,780.69 491.49,778.92 490.10,777.73 491.92,777.59" fill="#111"/>
<polygon points="497.77,775.90 498.48,777.59 500.30,777.73 498.91,778.92 499.33,780.69 497.77,779.74 496.22,780.69 496.64,778.92 495.25,777.73 497.07,777.59" fill="#111"/>
<polygon points="502.92,775.90 503.63,777.59 505.45,777.73 504.06,778.92 504.48,780.69 502.92,779.74 501.37,780.69 501.79,778.92 500.40,777.73 502.22,777.59" fill="#111"/>
<text x="442.01" y="849.90" font-size="10.5" fill="#111" stroke="#111" stroke-width="0.25" textLength="15.60" lengthAdjust="spacingAndGlyphs" >ND</text>
<line x1="417.20" y1="855.30" x2="482.80" y2="855.30" stroke="#444" stroke-width="1.0" />
<text transform="translate(355.80,828.20) rotate(-90) scale(0.955,1)" font-size="9.9" font-weight="bold" fill="#111" stroke="#111" stroke-width="0.12">OD<tspan font-size="7.6" dy="3.0">405</tspan></text>
<line x1="344.50" y1="877.40" x2="503.30" y2="877.40" stroke="#2a2a2a" stroke-width="1.25" />
<line x1="344.50" y1="899.20" x2="503.30" y2="899.20" stroke="#2a2a2a" stroke-width="1.25" />
<line x1="344.50" y1="919.70" x2="503.30" y2="919.70" stroke="#2a2a2a" stroke-width="1.25" />
<line x1="344.50" y1="940.10" x2="503.30" y2="940.10" stroke="#2a2a2a" stroke-width="1.25" />
<line x1="388.40" y1="877.40" x2="388.40" y2="940.10" stroke="#1a1a1a" stroke-width="1.25" />
<text x="348.29" y="886.70" font-size="8" fill="#222" stroke="#222" stroke-width="0.25" >EcN MVs</text>
<text x="344.82" y="896.90" font-size="8" fill="#222" stroke="#222" stroke-width="0.25" >vector cont.</text>
<path d="M400.80,884.40H404.20M402.50,882.45V886.35" stroke="#222" stroke-width="0.95" fill="none"/>
<text x="400.17" y="895.40" font-size="8" fill="#222" stroke="#222" stroke-width="0.25" >1</text>
<path d="M418.20,884.40H421.60M419.90,882.45V886.35" stroke="#222" stroke-width="0.95" fill="none"/>
<text x="417.57" y="895.40" font-size="8" fill="#222" stroke="#222" stroke-width="0.25" >1</text>
<path d="M436.30,884.40H439.70M438.00,882.45V886.35" stroke="#222" stroke-width="0.95" fill="none"/>
<text x="435.67" y="895.40" font-size="8" fill="#222" stroke="#222" stroke-width="0.25" >1</text>
<path d="M453.70,884.40H457.10M455.40,882.45V886.35" stroke="#222" stroke-width="0.95" fill="none"/>
<text x="453.07" y="895.40" font-size="8" fill="#222" stroke="#222" stroke-width="0.25" >1</text>
<path d="M471.60,884.40H475.00M473.30,882.45V886.35" stroke="#222" stroke-width="0.95" fill="none"/>
<text x="470.97" y="895.40" font-size="8" fill="#222" stroke="#222" stroke-width="0.25" >1</text>
<line x1="489.65" y1="888.30" x2="492.15" y2="888.30" stroke="#333" stroke-width="1.0" />
<text x="356.77" y="907.20" font-size="8" fill="#222" stroke="#222" stroke-width="0.25" >Free</text>
<text x="352.39" y="917.40" font-size="8" fill="#222" stroke="#222" stroke-width="0.25" >CPS14</text>
<line x1="401.25" y1="909.40" x2="403.75" y2="909.40" stroke="#333" stroke-width="1.0" />
<path d="M418.20,904.50H421.60M419.90,902.55V906.45" stroke="#222" stroke-width="0.95" fill="none"/>
<text x="412.15" y="916.50" font-size="8" fill="#222" stroke="#222" stroke-width="0.25" >0.01</text>
<path d="M434.07,904.50H437.47M435.77,902.55V906.45" stroke="#222" stroke-width="0.95" fill="none"/>
<path d="M438.53,904.50H441.93M440.23,902.55V906.45" stroke="#222" stroke-width="0.95" fill="none"/>
<text x="432.47" y="916.50" font-size="8" fill="#222" stroke="#222" stroke-width="0.25" >0.1</text>
<path d="M449.25,904.50H452.65M450.95,902.55V906.45" stroke="#222" stroke-width="0.95" fill="none"/>
<path d="M453.70,904.50H457.10M455.40,902.55V906.45" stroke="#222" stroke-width="0.95" fill="none"/>
<path d="M458.15,904.50H461.55M459.85,902.55V906.45" stroke="#222" stroke-width="0.95" fill="none"/>
<text x="453.07" y="916.50" font-size="8" fill="#222" stroke="#222" stroke-width="0.25" >1</text>
<path d="M467.73,904.50H471.12M469.43,902.55V906.45" stroke="#222" stroke-width="0.95" fill="none"/>
<path d="M472.18,904.50H475.57M473.88,902.55V906.45" stroke="#222" stroke-width="0.95" fill="none"/>
<path d="M476.63,904.50H480.03M478.33,902.55V906.45" stroke="#222" stroke-width="0.95" fill="none"/>
<path d="M481.08,904.50H484.48M482.78,902.55V906.45" stroke="#222" stroke-width="0.95" fill="none"/>
<text x="471.51" y="916.50" font-size="8" fill="#222" stroke="#222" stroke-width="0.25" >10</text>
<line x1="489.65" y1="904.70" x2="492.15" y2="904.70" stroke="#333" stroke-width="1.0" />
<text x="351.24" y="927.70" font-size="8" fill="#222" stroke="#222" stroke-width="0.25">CPS14<tspan font-size="5.2" dy="-2.8">+</tspan></text>
<text x="348.29" y="937.90" font-size="8" fill="#222" stroke="#222" stroke-width="0.25" >EcN MVs</text>
<line x1="401.25" y1="930.80" x2="403.75" y2="930.80" stroke="#333" stroke-width="1.0" />
<line x1="418.65" y1="930.80" x2="421.15" y2="930.80" stroke="#333" stroke-width="1.0" />
<line x1="436.75" y1="930.80" x2="439.25" y2="930.80" stroke="#333" stroke-width="1.0" />
<line x1="454.15" y1="930.80" x2="456.65" y2="930.80" stroke="#333" stroke-width="1.0" />
<line x1="472.05" y1="930.80" x2="474.55" y2="930.80" stroke="#333" stroke-width="1.0" />
<path d="M492.90,925.00H496.30M494.60,923.05V926.95" stroke="#222" stroke-width="0.95" fill="none"/>
<text x="492.27" y="935.90" font-size="8" fill="#222" stroke="#222" stroke-width="0.25" >1</text>
<line x1="564.80" y1="757.00" x2="564.80" y2="871.40" stroke="#333" stroke-width="1.2" />
<line x1="562.60" y1="868.60" x2="564.80" y2="868.60" stroke="#333" stroke-width="1.0" />
<text x="551.64" y="871.20" font-size="7.3" font-weight="bold" fill="#1a1a1a" stroke="#1a1a1a" stroke-width="0.1" >0.0</text>
<line x1="562.60" y1="840.83" x2="564.80" y2="840.83" stroke="#333" stroke-width="1.0" />
<text x="551.55" y="843.43" font-size="7.3" font-weight="bold" fill="#1a1a1a" stroke="#1a1a1a" stroke-width="0.1" >0.1</text>
<line x1="562.60" y1="813.05" x2="564.80" y2="813.05" stroke="#333" stroke-width="1.0" />
<text x="551.63" y="815.65" font-size="7.3" font-weight="bold" fill="#1a1a1a" stroke="#1a1a1a" stroke-width="0.1" >0.2</text>
<line x1="562.60" y1="785.27" x2="564.80" y2="785.27" stroke="#333" stroke-width="1.0" />
<text x="551.61" y="787.88" font-size="7.3" font-weight="bold" fill="#1a1a1a" stroke="#1a1a1a" stroke-width="0.1" >0.3</text>
<line x1="562.60" y1="757.50" x2="564.80" y2="757.50" stroke="#333" stroke-width="1.0" />
<text x="551.39" y="760.10" font-size="7.3" font-weight="bold" fill="#1a1a1a" stroke="#1a1a1a" stroke-width="0.1" >0.4</text>
<rect x="564.80" y="868.60" width="113.60" height="2.20" fill="#b4b4b4"/>
<line x1="563.00" y1="868.60" x2="678.40" y2="868.60" stroke="#1a1a1a" stroke-width="1.3" />
<circle cx="569.25" cy="868.40" r="1.05" fill="#111"/>
<circle cx="572.75" cy="868.40" r="1.05" fill="#111"/>
<circle cx="576.25" cy="868.40" r="1.05" fill="#111"/>
<circle cx="579.75" cy="868.40" r="1.05" fill="#111"/>
<line x1="574.50" y1="870.80" x2="574.50" y2="873.60" stroke="#333" stroke-width="0.9" />
<circle cx="588.25" cy="868.40" r="1.05" fill="#111"/>
<circle cx="591.75" cy="868.40" r="1.05" fill="#111"/>
<circle cx="595.25" cy="868.40" r="1.05" fill="#111"/>
<circle cx="598.75" cy="868.40" r="1.05" fill="#111"/>
<line x1="593.50" y1="870.80" x2="593.50" y2="873.60" stroke="#333" stroke-width="0.9" />
<circle cx="607.25" cy="868.40" r="1.05" fill="#111"/>
<circle cx="610.75" cy="868.40" r="1.05" fill="#111"/>
<circle cx="614.25" cy="868.40" r="1.05" fill="#111"/>
<circle cx="617.75" cy="868.40" r="1.05" fill="#111"/>
<line x1="612.50" y1="870.80" x2="612.50" y2="873.60" stroke="#333" stroke-width="0.9" />
<circle cx="626.25" cy="868.40" r="1.05" fill="#111"/>
<circle cx="629.75" cy="868.40" r="1.05" fill="#111"/>
<circle cx="633.25" cy="868.40" r="1.05" fill="#111"/>
<circle cx="636.75" cy="868.40" r="1.05" fill="#111"/>
<line x1="631.50" y1="870.80" x2="631.50" y2="873.60" stroke="#333" stroke-width="0.9" />
<circle cx="645.25" cy="868.40" r="1.05" fill="#111"/>
<circle cx="648.75" cy="868.40" r="1.05" fill="#111"/>
<circle cx="652.25" cy="868.40" r="1.05" fill="#111"/>
<circle cx="655.75" cy="868.40" r="1.05" fill="#111"/>
<line x1="650.50" y1="870.80" x2="650.50" y2="873.60" stroke="#333" stroke-width="0.9" />
<rect x="663.60" y="866.00" width="11.80" height="2.60" fill="#ff2800" stroke="#151515" stroke-width="1.3"/>
<line x1="669.50" y1="860.70" x2="669.50" y2="866.00" stroke="#444" stroke-width="0.9" />
<line x1="666.40" y1="860.70" x2="672.60" y2="860.70" stroke="#444" stroke-width="0.95" />
<circle cx="669.50" cy="858.00" r="1.2" fill="#111"/>
<circle cx="667.50" cy="867.50" r="1.0" fill="#111"/>
<circle cx="671.50" cy="867.50" r="1.0" fill="#111"/>
<line x1="669.50" y1="870.80" x2="669.50" y2="873.60" stroke="#333" stroke-width="0.9" />
<line x1="564.20" y1="870.80" x2="678.40" y2="870.80" stroke="#333" stroke-width="1.3" />
<text x="617.04" y="757.40" font-size="12" fill="#111" stroke="#111" stroke-width="0.25" >IgA</text>
<text x="622.03" y="845.80" font-size="10.5" fill="#111" stroke="#111" stroke-width="0.25" >ND</text>
<line x1="591.00" y1="850.70" x2="672.80" y2="850.70" stroke="#444" stroke-width="1.0" />
<text transform="translate(531.80,827.40) rotate(-90) scale(0.955,1)" font-size="9.9" font-weight="bold" fill="#111" stroke="#111" stroke-width="0.12">OD<tspan font-size="7.6" dy="3.0">405</tspan></text>
<line x1="520.50" y1="877.40" x2="680.00" y2="877.40" stroke="#2a2a2a" stroke-width="1.25" />
<line x1="520.50" y1="899.20" x2="680.00" y2="899.20" stroke="#2a2a2a" stroke-width="1.25" />
<line x1="520.50" y1="919.70" x2="680.00" y2="919.70" stroke="#2a2a2a" stroke-width="1.25" />
<line x1="520.50" y1="940.10" x2="680.00" y2="940.10" stroke="#2a2a2a" stroke-width="1.25" />
<line x1="564.60" y1="877.40" x2="564.60" y2="940.10" stroke="#1a1a1a" stroke-width="1.25" />
<text x="524.39" y="886.70" font-size="8" fill="#222" stroke="#222" stroke-width="0.25" >EcN MVs</text>
<text x="520.92" y="896.90" font-size="8" fill="#222" stroke="#222" stroke-width="0.25" >vector cont.</text>
<path d="M576.60,884.40H580.00M578.30,882.45V886.35" stroke="#222" stroke-width="0.95" fill="none"/>
<text x="575.97" y="895.40" font-size="8" fill="#222" stroke="#222" stroke-width="0.25" >1</text>
<path d="M594.00,884.40H597.40M595.70,882.45V886.35" stroke="#222" stroke-width="0.95" fill="none"/>
<text x="593.37" y="895.40" font-size="8" fill="#222" stroke="#222" stroke-width="0.25" >1</text>
<path d="M612.10,884.40H615.50M613.80,882.45V886.35" stroke="#222" stroke-width="0.95" fill="none"/>
<text x="611.47" y="895.40" font-size="8" fill="#222" stroke="#222" stroke-width="0.25" >1</text>
<path d="M629.50,884.40H632.90M631.20,882.45V886.35" stroke="#222" stroke-width="0.95" fill="none"/>
<text x="628.87" y="895.40" font-size="8" fill="#222" stroke="#222" stroke-width="0.25" >1</text>
<path d="M647.30,884.40H650.70M649.00,882.45V886.35" stroke="#222" stroke-width="0.95" fill="none"/>
<text x="646.67" y="895.40" font-size="8" fill="#222" stroke="#222" stroke-width="0.25" >1</text>
<line x1="667.65" y1="888.30" x2="670.15" y2="888.30" stroke="#333" stroke-width="1.0" />
<text x="532.87" y="907.20" font-size="8" fill="#222" stroke="#222" stroke-width="0.25" >Free</text>
<text x="528.49" y="917.40" font-size="8" fill="#222" stroke="#222" stroke-width="0.25" >CPS14</text>
<line x1="577.05" y1="909.40" x2="579.55" y2="909.40" stroke="#333" stroke-width="1.0" />
<path d="M594.00,904.50H597.40M595.70,902.55V906.45" stroke="#222" stroke-width="0.95" fill="none"/>
<text x="587.95" y="916.50" font-size="8" fill="#222" stroke="#222" stroke-width="0.25" >0.01</text>
<path d="M609.87,904.50H613.27M611.57,902.55V906.45" stroke="#222" stroke-width="0.95" fill="none"/>
<path d="M614.32,904.50H617.73M616.02,902.55V906.45" stroke="#222" stroke-width="0.95" fill="none"/>
<text x="608.27" y="916.50" font-size="8" fill="#222" stroke="#222" stroke-width="0.25" >0.1</text>
<path d="M625.05,904.50H628.45M626.75,902.55V906.45" stroke="#222" stroke-width="0.95" fill="none"/>
<path d="M629.50,904.50H632.90M631.20,902.55V906.45" stroke="#222" stroke-width="0.95" fill="none"/>
<path d="M633.95,904.50H637.35M635.65,902.55V906.45" stroke="#222" stroke-width="0.95" fill="none"/>
<text x="628.87" y="916.50" font-size="8" fill="#222" stroke="#222" stroke-width="0.25" >1</text>
<path d="M643.42,904.50H646.83M645.12,902.55V906.45" stroke="#222" stroke-width="0.95" fill="none"/>
<path d="M647.87,904.50H651.27M649.57,902.55V906.45" stroke="#222" stroke-width="0.95" fill="none"/>
<path d="M652.32,904.50H655.73M654.02,902.55V906.45" stroke="#222" stroke-width="0.95" fill="none"/>
<path d="M656.77,904.50H660.17M658.47,902.55V906.45" stroke="#222" stroke-width="0.95" fill="none"/>
<text x="647.21" y="916.50" font-size="8" fill="#222" stroke="#222" stroke-width="0.25" >10</text>
<line x1="667.65" y1="907.80" x2="670.15" y2="907.80" stroke="#333" stroke-width="1.0" />
<text x="527.34" y="927.70" font-size="8" fill="#222" stroke="#222" stroke-width="0.25">CPS14<tspan font-size="5.2" dy="-2.8">+</tspan></text>
<text x="524.39" y="937.90" font-size="8" fill="#222" stroke="#222" stroke-width="0.25" >EcN MVs</text>
<line x1="577.05" y1="930.80" x2="579.55" y2="930.80" stroke="#333" stroke-width="1.0" />
<line x1="594.45" y1="930.80" x2="596.95" y2="930.80" stroke="#333" stroke-width="1.0" />
<line x1="612.55" y1="930.80" x2="615.05" y2="930.80" stroke="#333" stroke-width="1.0" />
<line x1="629.95" y1="930.80" x2="632.45" y2="930.80" stroke="#333" stroke-width="1.0" />
<line x1="647.75" y1="930.80" x2="650.25" y2="930.80" stroke="#333" stroke-width="1.0" />
<path d="M668.40,925.00H671.80M670.10,923.05V926.95" stroke="#222" stroke-width="0.95" fill="none"/>
<text x="667.77" y="935.90" font-size="8" fill="#222" stroke="#222" stroke-width="0.25" >1</text>
</svg>
</body></html>
